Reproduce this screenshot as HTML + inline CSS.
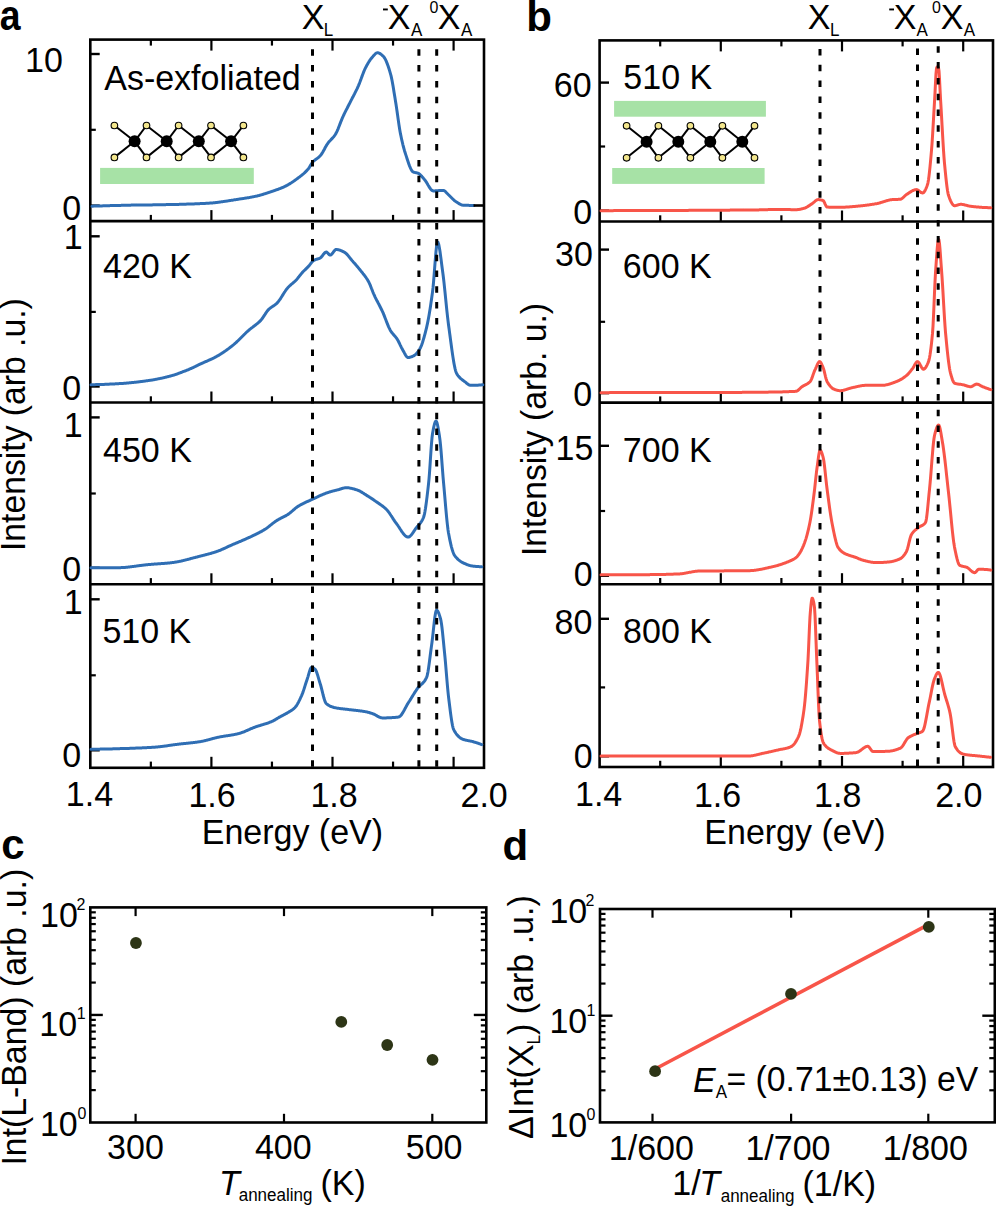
<!DOCTYPE html>
<html><head><meta charset="utf-8"><style>
html,body{margin:0;padding:0;background:#fff;overflow:hidden;}
svg{display:block;}
text{font-family:"Liberation Sans", sans-serif;fill:#000;}
</style></head><body>
<svg width="996" height="1206" viewBox="0 0 996 1206">
<rect width="996" height="1206" fill="#fff"/>
<rect x="90.30" y="39.60" width="393.70" height="728.20" fill="none" stroke="#000" stroke-width="2.6"/>
<line x1="90.30" y1="221.10" x2="484.00" y2="221.10" stroke="#000" stroke-width="2.6"/>
<line x1="90.30" y1="402.50" x2="484.00" y2="402.50" stroke="#000" stroke-width="2.6"/>
<line x1="90.30" y1="584.30" x2="484.00" y2="584.30" stroke="#000" stroke-width="2.6"/>
<line x1="150.85" y1="221.10" x2="150.85" y2="214.90" stroke="#000" stroke-width="2.2"/>
<line x1="211.40" y1="221.10" x2="211.40" y2="210.10" stroke="#000" stroke-width="2.2"/>
<line x1="271.95" y1="221.10" x2="271.95" y2="214.90" stroke="#000" stroke-width="2.2"/>
<line x1="332.50" y1="221.10" x2="332.50" y2="210.10" stroke="#000" stroke-width="2.2"/>
<line x1="393.05" y1="221.10" x2="393.05" y2="214.90" stroke="#000" stroke-width="2.2"/>
<line x1="453.60" y1="221.10" x2="453.60" y2="210.10" stroke="#000" stroke-width="2.2"/>
<line x1="150.85" y1="402.50" x2="150.85" y2="396.30" stroke="#000" stroke-width="2.2"/>
<line x1="211.40" y1="402.50" x2="211.40" y2="391.50" stroke="#000" stroke-width="2.2"/>
<line x1="271.95" y1="402.50" x2="271.95" y2="396.30" stroke="#000" stroke-width="2.2"/>
<line x1="332.50" y1="402.50" x2="332.50" y2="391.50" stroke="#000" stroke-width="2.2"/>
<line x1="393.05" y1="402.50" x2="393.05" y2="396.30" stroke="#000" stroke-width="2.2"/>
<line x1="453.60" y1="402.50" x2="453.60" y2="391.50" stroke="#000" stroke-width="2.2"/>
<line x1="150.85" y1="584.30" x2="150.85" y2="578.10" stroke="#000" stroke-width="2.2"/>
<line x1="211.40" y1="584.30" x2="211.40" y2="573.30" stroke="#000" stroke-width="2.2"/>
<line x1="271.95" y1="584.30" x2="271.95" y2="578.10" stroke="#000" stroke-width="2.2"/>
<line x1="332.50" y1="584.30" x2="332.50" y2="573.30" stroke="#000" stroke-width="2.2"/>
<line x1="393.05" y1="584.30" x2="393.05" y2="578.10" stroke="#000" stroke-width="2.2"/>
<line x1="453.60" y1="584.30" x2="453.60" y2="573.30" stroke="#000" stroke-width="2.2"/>
<line x1="150.85" y1="767.80" x2="150.85" y2="761.60" stroke="#000" stroke-width="2.2"/>
<line x1="211.40" y1="767.80" x2="211.40" y2="756.80" stroke="#000" stroke-width="2.2"/>
<line x1="271.95" y1="767.80" x2="271.95" y2="761.60" stroke="#000" stroke-width="2.2"/>
<line x1="332.50" y1="767.80" x2="332.50" y2="756.80" stroke="#000" stroke-width="2.2"/>
<line x1="393.05" y1="767.80" x2="393.05" y2="761.60" stroke="#000" stroke-width="2.2"/>
<line x1="453.60" y1="767.80" x2="453.60" y2="756.80" stroke="#000" stroke-width="2.2"/>
<line x1="150.85" y1="39.60" x2="150.85" y2="45.60" stroke="#000" stroke-width="2.2"/>
<line x1="211.40" y1="39.60" x2="211.40" y2="50.60" stroke="#000" stroke-width="2.2"/>
<line x1="271.95" y1="39.60" x2="271.95" y2="45.60" stroke="#000" stroke-width="2.2"/>
<line x1="332.50" y1="39.60" x2="332.50" y2="50.60" stroke="#000" stroke-width="2.2"/>
<line x1="393.05" y1="39.60" x2="393.05" y2="45.60" stroke="#000" stroke-width="2.2"/>
<line x1="453.60" y1="39.60" x2="453.60" y2="50.60" stroke="#000" stroke-width="2.2"/>
<line x1="90.30" y1="54.00" x2="99.70" y2="54.00" stroke="#000" stroke-width="2.4"/>
<line x1="90.30" y1="205.60" x2="99.70" y2="205.60" stroke="#000" stroke-width="2.4"/>
<line x1="90.30" y1="129.80" x2="95.80" y2="129.80" stroke="#000" stroke-width="2.2"/>
<line x1="90.30" y1="236.30" x2="99.70" y2="236.30" stroke="#000" stroke-width="2.4"/>
<line x1="90.30" y1="386.50" x2="99.70" y2="386.50" stroke="#000" stroke-width="2.4"/>
<line x1="90.30" y1="311.90" x2="95.80" y2="311.90" stroke="#000" stroke-width="2.2"/>
<line x1="90.30" y1="417.40" x2="99.70" y2="417.40" stroke="#000" stroke-width="2.4"/>
<line x1="90.30" y1="567.80" x2="99.70" y2="567.80" stroke="#000" stroke-width="2.4"/>
<line x1="90.30" y1="493.50" x2="95.80" y2="493.50" stroke="#000" stroke-width="2.2"/>
<line x1="90.30" y1="599.30" x2="99.70" y2="599.30" stroke="#000" stroke-width="2.4"/>
<line x1="90.30" y1="750.30" x2="99.70" y2="750.30" stroke="#000" stroke-width="2.4"/>
<line x1="90.30" y1="675.30" x2="95.80" y2="675.30" stroke="#000" stroke-width="2.2"/>
<rect x="599.60" y="40.40" width="393.40" height="726.60" fill="none" stroke="#000" stroke-width="2.6"/>
<line x1="599.60" y1="221.50" x2="993.00" y2="221.50" stroke="#000" stroke-width="2.6"/>
<line x1="599.60" y1="402.60" x2="993.00" y2="402.60" stroke="#000" stroke-width="2.6"/>
<line x1="599.60" y1="584.20" x2="993.00" y2="584.20" stroke="#000" stroke-width="2.6"/>
<line x1="660.20" y1="221.50" x2="660.20" y2="215.30" stroke="#000" stroke-width="2.2"/>
<line x1="720.80" y1="221.50" x2="720.80" y2="210.50" stroke="#000" stroke-width="2.2"/>
<line x1="781.40" y1="221.50" x2="781.40" y2="215.30" stroke="#000" stroke-width="2.2"/>
<line x1="842.00" y1="221.50" x2="842.00" y2="210.50" stroke="#000" stroke-width="2.2"/>
<line x1="902.60" y1="221.50" x2="902.60" y2="215.30" stroke="#000" stroke-width="2.2"/>
<line x1="963.20" y1="221.50" x2="963.20" y2="210.50" stroke="#000" stroke-width="2.2"/>
<line x1="660.20" y1="402.60" x2="660.20" y2="396.40" stroke="#000" stroke-width="2.2"/>
<line x1="720.80" y1="402.60" x2="720.80" y2="391.60" stroke="#000" stroke-width="2.2"/>
<line x1="781.40" y1="402.60" x2="781.40" y2="396.40" stroke="#000" stroke-width="2.2"/>
<line x1="842.00" y1="402.60" x2="842.00" y2="391.60" stroke="#000" stroke-width="2.2"/>
<line x1="902.60" y1="402.60" x2="902.60" y2="396.40" stroke="#000" stroke-width="2.2"/>
<line x1="963.20" y1="402.60" x2="963.20" y2="391.60" stroke="#000" stroke-width="2.2"/>
<line x1="660.20" y1="584.20" x2="660.20" y2="578.00" stroke="#000" stroke-width="2.2"/>
<line x1="720.80" y1="584.20" x2="720.80" y2="573.20" stroke="#000" stroke-width="2.2"/>
<line x1="781.40" y1="584.20" x2="781.40" y2="578.00" stroke="#000" stroke-width="2.2"/>
<line x1="842.00" y1="584.20" x2="842.00" y2="573.20" stroke="#000" stroke-width="2.2"/>
<line x1="902.60" y1="584.20" x2="902.60" y2="578.00" stroke="#000" stroke-width="2.2"/>
<line x1="963.20" y1="584.20" x2="963.20" y2="573.20" stroke="#000" stroke-width="2.2"/>
<line x1="660.20" y1="767.00" x2="660.20" y2="760.80" stroke="#000" stroke-width="2.2"/>
<line x1="720.80" y1="767.00" x2="720.80" y2="756.00" stroke="#000" stroke-width="2.2"/>
<line x1="781.40" y1="767.00" x2="781.40" y2="760.80" stroke="#000" stroke-width="2.2"/>
<line x1="842.00" y1="767.00" x2="842.00" y2="756.00" stroke="#000" stroke-width="2.2"/>
<line x1="902.60" y1="767.00" x2="902.60" y2="760.80" stroke="#000" stroke-width="2.2"/>
<line x1="963.20" y1="767.00" x2="963.20" y2="756.00" stroke="#000" stroke-width="2.2"/>
<line x1="660.20" y1="40.40" x2="660.20" y2="46.40" stroke="#000" stroke-width="2.2"/>
<line x1="720.80" y1="40.40" x2="720.80" y2="51.40" stroke="#000" stroke-width="2.2"/>
<line x1="781.40" y1="40.40" x2="781.40" y2="46.40" stroke="#000" stroke-width="2.2"/>
<line x1="842.00" y1="40.40" x2="842.00" y2="51.40" stroke="#000" stroke-width="2.2"/>
<line x1="902.60" y1="40.40" x2="902.60" y2="46.40" stroke="#000" stroke-width="2.2"/>
<line x1="963.20" y1="40.40" x2="963.20" y2="51.40" stroke="#000" stroke-width="2.2"/>
<line x1="599.60" y1="82.60" x2="609.00" y2="82.60" stroke="#000" stroke-width="2.4"/>
<line x1="599.60" y1="210.60" x2="609.00" y2="210.60" stroke="#000" stroke-width="2.4"/>
<line x1="599.60" y1="146.50" x2="605.10" y2="146.50" stroke="#000" stroke-width="2.2"/>
<line x1="599.60" y1="249.60" x2="609.00" y2="249.60" stroke="#000" stroke-width="2.4"/>
<line x1="599.60" y1="393.10" x2="609.00" y2="393.10" stroke="#000" stroke-width="2.4"/>
<line x1="599.60" y1="321.80" x2="605.10" y2="321.80" stroke="#000" stroke-width="2.2"/>
<line x1="599.60" y1="445.80" x2="609.00" y2="445.80" stroke="#000" stroke-width="2.4"/>
<line x1="599.60" y1="575.80" x2="609.00" y2="575.80" stroke="#000" stroke-width="2.4"/>
<line x1="599.60" y1="511.00" x2="605.10" y2="511.00" stroke="#000" stroke-width="2.2"/>
<line x1="599.60" y1="618.80" x2="609.00" y2="618.80" stroke="#000" stroke-width="2.4"/>
<line x1="599.60" y1="756.30" x2="609.00" y2="756.30" stroke="#000" stroke-width="2.4"/>
<line x1="599.60" y1="687.40" x2="605.10" y2="687.40" stroke="#000" stroke-width="2.2"/>
<rect x="100.1" y="167.9" width="153.7" height="16.1" fill="#a7e2a6"/>
<line x1="134.60" y1="141.30" x2="114.40" y2="125.50" stroke="#000" stroke-width="2"/>
<line x1="134.60" y1="141.30" x2="114.40" y2="157.40" stroke="#000" stroke-width="2"/>
<line x1="134.60" y1="141.30" x2="146.50" y2="125.50" stroke="#000" stroke-width="2"/>
<line x1="134.60" y1="141.30" x2="146.50" y2="157.40" stroke="#000" stroke-width="2"/>
<line x1="166.70" y1="141.30" x2="146.50" y2="125.50" stroke="#000" stroke-width="2"/>
<line x1="166.70" y1="141.30" x2="146.50" y2="157.40" stroke="#000" stroke-width="2"/>
<line x1="166.70" y1="141.30" x2="178.60" y2="125.50" stroke="#000" stroke-width="2"/>
<line x1="166.70" y1="141.30" x2="178.60" y2="157.40" stroke="#000" stroke-width="2"/>
<line x1="198.80" y1="141.30" x2="178.60" y2="125.50" stroke="#000" stroke-width="2"/>
<line x1="198.80" y1="141.30" x2="178.60" y2="157.40" stroke="#000" stroke-width="2"/>
<line x1="198.80" y1="141.30" x2="211.00" y2="125.50" stroke="#000" stroke-width="2"/>
<line x1="198.80" y1="141.30" x2="211.00" y2="157.40" stroke="#000" stroke-width="2"/>
<line x1="231.10" y1="141.30" x2="211.00" y2="125.50" stroke="#000" stroke-width="2"/>
<line x1="231.10" y1="141.30" x2="211.00" y2="157.40" stroke="#000" stroke-width="2"/>
<line x1="231.10" y1="141.30" x2="243.40" y2="125.50" stroke="#000" stroke-width="2"/>
<line x1="231.10" y1="141.30" x2="243.40" y2="157.40" stroke="#000" stroke-width="2"/>
<circle cx="134.60" cy="141.30" r="6" fill="#000"/>
<circle cx="166.70" cy="141.30" r="6" fill="#000"/>
<circle cx="198.80" cy="141.30" r="6" fill="#000"/>
<circle cx="231.10" cy="141.30" r="6" fill="#000"/>
<circle cx="114.40" cy="125.50" r="3.3" fill="#f3e68c" stroke="#000" stroke-width="1.1"/>
<circle cx="114.40" cy="157.40" r="3.3" fill="#f3e68c" stroke="#000" stroke-width="1.1"/>
<circle cx="146.50" cy="125.50" r="3.3" fill="#f3e68c" stroke="#000" stroke-width="1.1"/>
<circle cx="146.50" cy="157.40" r="3.3" fill="#f3e68c" stroke="#000" stroke-width="1.1"/>
<circle cx="178.60" cy="125.50" r="3.3" fill="#f3e68c" stroke="#000" stroke-width="1.1"/>
<circle cx="178.60" cy="157.40" r="3.3" fill="#f3e68c" stroke="#000" stroke-width="1.1"/>
<circle cx="211.00" cy="125.50" r="3.3" fill="#f3e68c" stroke="#000" stroke-width="1.1"/>
<circle cx="211.00" cy="157.40" r="3.3" fill="#f3e68c" stroke="#000" stroke-width="1.1"/>
<circle cx="243.40" cy="125.50" r="3.3" fill="#f3e68c" stroke="#000" stroke-width="1.1"/>
<circle cx="243.40" cy="157.40" r="3.3" fill="#f3e68c" stroke="#000" stroke-width="1.1"/>
<rect x="614.1" y="100.9" width="151.8" height="15.8" fill="#a7e2a6"/>
<rect x="612.2" y="168.0" width="152.4" height="15.9" fill="#a7e2a6"/>
<line x1="646.60" y1="141.80" x2="626.60" y2="125.80" stroke="#000" stroke-width="2"/>
<line x1="646.60" y1="141.80" x2="626.60" y2="157.80" stroke="#000" stroke-width="2"/>
<line x1="646.60" y1="141.80" x2="658.40" y2="125.80" stroke="#000" stroke-width="2"/>
<line x1="646.60" y1="141.80" x2="658.40" y2="157.80" stroke="#000" stroke-width="2"/>
<line x1="678.30" y1="141.80" x2="658.40" y2="125.80" stroke="#000" stroke-width="2"/>
<line x1="678.30" y1="141.80" x2="658.40" y2="157.80" stroke="#000" stroke-width="2"/>
<line x1="678.30" y1="141.80" x2="690.40" y2="125.80" stroke="#000" stroke-width="2"/>
<line x1="678.30" y1="141.80" x2="690.40" y2="157.80" stroke="#000" stroke-width="2"/>
<line x1="710.30" y1="141.80" x2="690.40" y2="125.80" stroke="#000" stroke-width="2"/>
<line x1="710.30" y1="141.80" x2="690.40" y2="157.80" stroke="#000" stroke-width="2"/>
<line x1="710.30" y1="141.80" x2="722.40" y2="125.80" stroke="#000" stroke-width="2"/>
<line x1="710.30" y1="141.80" x2="722.40" y2="157.80" stroke="#000" stroke-width="2"/>
<line x1="742.30" y1="141.80" x2="722.40" y2="125.80" stroke="#000" stroke-width="2"/>
<line x1="742.30" y1="141.80" x2="722.40" y2="157.80" stroke="#000" stroke-width="2"/>
<line x1="742.30" y1="141.80" x2="754.50" y2="125.80" stroke="#000" stroke-width="2"/>
<line x1="742.30" y1="141.80" x2="754.50" y2="157.80" stroke="#000" stroke-width="2"/>
<circle cx="646.60" cy="141.80" r="6" fill="#000"/>
<circle cx="678.30" cy="141.80" r="6" fill="#000"/>
<circle cx="710.30" cy="141.80" r="6" fill="#000"/>
<circle cx="742.30" cy="141.80" r="6" fill="#000"/>
<circle cx="626.60" cy="125.80" r="3.3" fill="#f3e68c" stroke="#000" stroke-width="1.1"/>
<circle cx="626.60" cy="157.80" r="3.3" fill="#f3e68c" stroke="#000" stroke-width="1.1"/>
<circle cx="658.40" cy="125.80" r="3.3" fill="#f3e68c" stroke="#000" stroke-width="1.1"/>
<circle cx="658.40" cy="157.80" r="3.3" fill="#f3e68c" stroke="#000" stroke-width="1.1"/>
<circle cx="690.40" cy="125.80" r="3.3" fill="#f3e68c" stroke="#000" stroke-width="1.1"/>
<circle cx="690.40" cy="157.80" r="3.3" fill="#f3e68c" stroke="#000" stroke-width="1.1"/>
<circle cx="722.40" cy="125.80" r="3.3" fill="#f3e68c" stroke="#000" stroke-width="1.1"/>
<circle cx="722.40" cy="157.80" r="3.3" fill="#f3e68c" stroke="#000" stroke-width="1.1"/>
<circle cx="754.50" cy="125.80" r="3.3" fill="#f3e68c" stroke="#000" stroke-width="1.1"/>
<circle cx="754.50" cy="157.80" r="3.3" fill="#f3e68c" stroke="#000" stroke-width="1.1"/>
<path d="M92.0,206.2 L92.5,206.2 L93.0,206.2 L93.5,206.1 L94.0,206.1 L94.5,206.1 L95.0,206.1 L95.5,206.1 L96.0,206.1 L96.5,206.1 L97.0,206.0 L97.5,206.0 L98.0,206.0 L98.5,206.0 L99.0,206.0 L99.5,206.0 L100.0,205.9 L100.5,205.9 L101.0,205.9 L101.5,205.9 L102.0,205.9 L102.5,205.9 L103.0,205.8 L103.5,205.8 L104.0,205.8 L104.5,205.8 L105.0,205.8 L105.5,205.8 L106.0,205.8 L106.5,205.7 L107.0,205.7 L107.5,205.7 L108.0,205.7 L108.5,205.7 L109.0,205.7 L109.5,205.7 L110.0,205.6 L110.5,205.6 L111.0,205.6 L111.5,205.6 L112.0,205.6 L112.5,205.6 L113.0,205.6 L113.5,205.5 L114.0,205.5 L114.5,205.5 L115.0,205.5 L115.5,205.5 L116.0,205.5 L116.5,205.5 L117.0,205.5 L117.5,205.4 L118.0,205.4 L118.5,205.4 L119.0,205.4 L119.5,205.4 L120.0,205.4 L120.5,205.4 L121.0,205.4 L121.5,205.3 L122.0,205.3 L122.5,205.3 L123.0,205.3 L123.5,205.3 L124.0,205.3 L124.5,205.3 L125.0,205.3 L125.5,205.3 L126.0,205.2 L126.5,205.2 L127.0,205.2 L127.5,205.2 L128.0,205.2 L128.5,205.2 L129.0,205.2 L129.5,205.2 L130.0,205.2 L130.5,205.2 L131.0,205.1 L131.5,205.1 L132.0,205.1 L132.5,205.1 L133.0,205.1 L133.5,205.1 L134.0,205.1 L134.5,205.1 L135.0,205.1 L135.5,205.1 L136.0,205.1 L136.5,205.1 L137.0,205.1 L137.5,205.0 L138.0,205.0 L138.5,205.0 L139.0,205.0 L139.5,205.0 L140.0,205.0 L140.5,205.0 L141.0,205.0 L141.5,205.0 L142.0,205.0 L142.5,205.0 L143.0,205.0 L143.5,205.0 L144.0,205.0 L144.5,205.0 L145.0,204.9 L145.5,204.9 L146.0,204.9 L146.5,204.9 L147.0,204.9 L147.5,204.9 L148.0,204.9 L148.5,204.9 L149.0,204.9 L149.5,204.9 L150.0,204.9 L150.5,204.9 L151.0,204.9 L151.5,204.9 L152.0,204.9 L152.5,204.9 L153.0,204.8 L153.5,204.8 L154.0,204.8 L154.5,204.8 L155.0,204.8 L155.5,204.8 L156.0,204.8 L156.5,204.8 L157.0,204.8 L157.5,204.8 L158.0,204.8 L158.5,204.8 L159.0,204.8 L159.5,204.8 L160.0,204.7 L160.5,204.7 L161.0,204.7 L161.5,204.7 L162.0,204.7 L162.5,204.7 L163.0,204.7 L163.5,204.7 L164.0,204.7 L164.5,204.7 L165.0,204.7 L165.5,204.7 L166.0,204.6 L166.5,204.6 L167.0,204.6 L167.5,204.6 L168.0,204.6 L168.5,204.6 L169.0,204.6 L169.5,204.6 L170.0,204.6 L170.5,204.6 L171.0,204.5 L171.5,204.5 L172.0,204.5 L172.5,204.5 L173.0,204.5 L173.5,204.5 L174.0,204.5 L174.5,204.5 L175.0,204.5 L175.5,204.4 L176.0,204.4 L176.5,204.4 L177.0,204.4 L177.5,204.4 L178.0,204.4 L178.5,204.4 L179.0,204.4 L179.5,204.3 L180.0,204.3 L180.5,204.3 L181.0,204.3 L181.5,204.3 L182.0,204.3 L182.5,204.3 L183.0,204.2 L183.5,204.2 L184.0,204.2 L184.5,204.2 L185.0,204.2 L185.5,204.2 L186.0,204.2 L186.5,204.1 L187.0,204.1 L187.5,204.1 L188.0,204.1 L188.5,204.1 L189.0,204.1 L189.5,204.0 L190.0,204.0 L190.5,204.0 L191.0,204.0 L191.5,204.0 L192.0,204.0 L192.5,203.9 L193.0,203.9 L193.5,203.9 L194.0,203.9 L194.5,203.9 L195.0,203.8 L195.5,203.8 L196.0,203.8 L196.5,203.8 L197.0,203.8 L197.5,203.7 L198.0,203.7 L198.5,203.7 L199.0,203.7 L199.5,203.7 L200.0,203.6 L200.5,203.6 L201.0,203.6 L201.5,203.6 L202.0,203.5 L202.5,203.5 L203.0,203.5 L203.5,203.5 L204.0,203.4 L204.5,203.4 L205.0,203.4 L205.5,203.4 L206.0,203.3 L206.5,203.3 L207.0,203.3 L207.5,203.3 L208.0,203.2 L208.5,203.2 L209.0,203.2 L209.5,203.1 L210.0,203.1 L210.5,203.1 L211.0,203.0 L211.5,203.0 L212.0,202.9 L212.5,202.9 L213.0,202.9 L213.5,202.8 L214.0,202.8 L214.5,202.7 L215.0,202.7 L215.5,202.6 L216.0,202.6 L216.5,202.5 L217.0,202.4 L217.5,202.4 L218.0,202.3 L218.5,202.3 L219.0,202.2 L219.5,202.1 L220.0,202.1 L220.5,202.0 L221.0,201.9 L221.5,201.8 L222.0,201.8 L222.5,201.7 L223.0,201.6 L223.5,201.6 L224.0,201.5 L224.5,201.4 L225.0,201.3 L225.5,201.3 L226.0,201.2 L226.5,201.1 L227.0,201.0 L227.5,201.0 L228.0,200.9 L228.5,200.8 L229.0,200.7 L229.5,200.6 L230.0,200.6 L230.5,200.5 L231.0,200.4 L231.5,200.3 L232.0,200.2 L232.5,200.2 L233.0,200.1 L233.5,200.0 L234.0,199.9 L234.5,199.8 L235.0,199.8 L235.5,199.7 L236.0,199.6 L236.5,199.5 L237.0,199.4 L237.5,199.4 L238.0,199.3 L238.5,199.2 L239.0,199.1 L239.5,199.1 L240.0,199.0 L240.5,198.9 L241.0,198.8 L241.5,198.8 L242.0,198.7 L242.5,198.6 L243.0,198.5 L243.5,198.5 L244.0,198.4 L244.5,198.3 L245.0,198.2 L245.5,198.1 L246.0,198.1 L246.5,198.0 L247.0,197.9 L247.5,197.8 L248.0,197.7 L248.5,197.7 L249.0,197.6 L249.5,197.5 L250.0,197.4 L250.5,197.3 L251.0,197.2 L251.5,197.1 L252.0,197.0 L252.5,196.9 L253.0,196.8 L253.5,196.7 L254.0,196.6 L254.5,196.5 L255.0,196.4 L255.5,196.3 L256.0,196.2 L256.5,196.1 L257.0,196.0 L257.5,195.8 L258.0,195.7 L258.5,195.6 L259.0,195.5 L259.5,195.3 L260.0,195.2 L260.5,195.1 L261.0,194.9 L261.5,194.8 L262.0,194.6 L262.5,194.5 L263.0,194.3 L263.5,194.2 L264.0,194.0 L264.5,193.9 L265.0,193.7 L265.5,193.6 L266.0,193.4 L266.5,193.2 L267.0,193.1 L267.5,192.9 L268.0,192.7 L268.5,192.6 L269.0,192.4 L269.5,192.2 L270.0,192.1 L270.5,191.9 L271.0,191.7 L271.5,191.6 L272.0,191.4 L272.5,191.2 L273.0,191.1 L273.5,190.9 L274.0,190.7 L274.5,190.6 L275.0,190.4 L275.5,190.2 L276.0,190.0 L276.5,189.9 L277.0,189.7 L277.5,189.5 L278.0,189.3 L278.5,189.1 L279.0,188.9 L279.5,188.7 L280.0,188.6 L280.5,188.4 L281.0,188.2 L281.5,188.0 L282.0,187.7 L282.5,187.5 L283.0,187.3 L283.5,187.1 L284.0,186.9 L284.5,186.6 L285.0,186.4 L285.5,186.2 L286.0,185.9 L286.5,185.6 L287.0,185.4 L287.5,185.1 L288.0,184.8 L288.5,184.5 L289.0,184.2 L289.5,183.9 L290.0,183.6 L290.5,183.3 L291.0,183.0 L291.5,182.7 L292.0,182.3 L292.5,182.0 L293.0,181.7 L293.5,181.3 L294.0,181.0 L294.5,180.6 L295.0,180.3 L295.5,179.9 L296.0,179.5 L296.5,179.2 L297.0,178.8 L297.5,178.4 L298.0,178.1 L298.5,177.7 L299.0,177.3 L299.5,177.0 L300.0,176.6 L300.5,176.2 L301.0,175.8 L301.5,175.4 L302.0,175.0 L302.5,174.6 L303.0,174.2 L303.5,173.8 L304.0,173.3 L304.5,172.9 L305.0,172.4 L305.5,171.9 L306.0,171.4 L306.5,170.9 L307.0,170.4 L307.5,169.8 L308.0,169.3 L308.5,168.6 L309.0,167.9 L309.5,167.1 L310.0,166.2 L310.5,165.4 L311.0,164.6 L311.5,163.8 L312.0,163.0 L312.5,162.3 L313.0,161.8 L313.5,161.3 L314.0,160.8 L314.5,160.4 L315.0,160.0 L315.5,159.6 L316.0,159.3 L316.5,158.9 L317.0,158.5 L317.5,158.2 L318.0,157.8 L318.5,157.4 L319.0,157.0 L319.5,156.5 L320.0,156.0 L320.5,155.5 L321.0,154.8 L321.5,154.1 L322.0,153.4 L322.5,152.5 L323.0,151.7 L323.5,150.8 L324.0,149.9 L324.5,149.0 L325.0,148.0 L325.5,147.1 L326.0,146.2 L326.5,145.4 L327.0,144.5 L327.5,143.8 L328.0,143.1 L328.5,142.4 L329.0,141.8 L329.5,141.2 L330.0,140.7 L330.5,140.2 L331.0,139.6 L331.5,139.1 L332.0,138.6 L332.5,138.1 L333.0,137.5 L333.5,137.0 L334.0,136.4 L334.5,135.7 L335.0,135.0 L335.5,134.2 L336.0,133.4 L336.5,132.4 L337.0,131.4 L337.5,130.2 L338.0,129.1 L338.5,127.8 L339.0,126.5 L339.5,125.2 L340.0,123.9 L340.5,122.6 L341.0,121.3 L341.5,120.1 L342.0,118.9 L342.5,117.7 L343.0,116.6 L343.5,115.5 L344.0,114.5 L344.5,113.4 L345.0,112.4 L345.5,111.4 L346.0,110.4 L346.5,109.4 L347.0,108.5 L347.5,107.5 L348.0,106.5 L348.5,105.5 L349.0,104.6 L349.5,103.6 L350.0,102.6 L350.5,101.6 L351.0,100.6 L351.5,99.6 L352.0,98.7 L352.5,97.7 L353.0,96.8 L353.5,95.8 L354.0,94.8 L354.5,93.9 L355.0,92.9 L355.5,91.9 L356.0,90.9 L356.5,89.9 L357.0,88.9 L357.5,87.8 L358.0,86.7 L358.5,85.6 L359.0,84.3 L359.5,83.1 L360.0,81.8 L360.5,80.4 L361.0,79.1 L361.5,77.7 L362.0,76.4 L362.5,75.0 L363.0,73.7 L363.5,72.4 L364.0,71.2 L364.5,70.0 L365.0,68.9 L365.5,67.9 L366.0,66.9 L366.5,66.0 L367.0,65.1 L367.5,64.2 L368.0,63.3 L368.5,62.5 L369.0,61.6 L369.5,60.9 L370.0,60.1 L370.5,59.4 L371.0,58.8 L371.5,58.1 L372.0,57.6 L372.5,57.0 L373.0,56.4 L373.5,55.8 L374.0,55.2 L374.5,54.7 L375.0,54.1 L375.5,53.7 L376.0,53.3 L376.5,53.0 L377.0,52.9 L377.5,52.8 L378.0,52.8 L378.5,52.9 L379.0,53.1 L379.5,53.3 L380.0,53.6 L380.5,53.9 L381.0,54.3 L381.5,54.7 L382.0,55.1 L382.5,55.6 L383.0,56.0 L383.5,56.5 L384.0,57.1 L384.5,57.9 L385.0,58.7 L385.5,59.7 L386.0,60.7 L386.5,61.9 L387.0,63.1 L387.5,64.4 L388.0,65.8 L388.5,67.3 L389.0,68.8 L389.5,70.4 L390.0,72.1 L390.5,73.8 L391.0,75.6 L391.5,77.8 L392.0,80.2 L392.5,82.9 L393.0,85.8 L393.5,88.8 L394.0,91.9 L394.5,95.0 L395.0,98.1 L395.5,101.2 L396.0,104.3 L396.5,107.6 L397.0,111.0 L397.5,114.5 L398.0,118.1 L398.5,121.6 L399.0,125.0 L399.5,128.2 L400.0,131.2 L400.5,133.9 L401.0,136.3 L401.5,138.7 L402.0,140.9 L402.5,143.0 L403.0,145.1 L403.5,147.0 L404.0,148.9 L404.5,150.7 L405.0,152.3 L405.5,153.9 L406.0,155.4 L406.5,156.9 L407.0,158.5 L407.5,160.0 L408.0,161.5 L408.5,163.0 L409.0,164.4 L409.5,165.8 L410.0,167.0 L410.5,168.2 L411.0,169.2 L411.5,170.1 L412.0,170.9 L412.5,171.5 L413.0,171.9 L413.5,172.1 L414.0,172.3 L414.5,172.4 L415.0,172.5 L415.5,172.6 L416.0,172.7 L416.5,172.8 L417.0,172.9 L417.5,173.1 L418.0,173.2 L418.5,173.4 L419.0,173.7 L419.5,174.1 L420.0,174.5 L420.5,175.0 L421.0,175.5 L421.5,176.1 L422.0,176.6 L422.5,177.2 L423.0,177.8 L423.5,178.4 L424.0,179.0 L424.5,179.6 L425.0,180.2 L425.5,180.9 L426.0,181.6 L426.5,182.4 L427.0,183.2 L427.5,184.1 L428.0,185.0 L428.5,185.8 L429.0,186.6 L429.5,187.4 L430.0,188.2 L430.5,188.9 L431.0,189.5 L431.5,190.0 L432.0,190.4 L432.5,190.7 L433.0,190.9 L433.5,190.9 L434.0,190.9 L434.5,190.9 L435.0,190.9 L435.5,190.8 L436.0,190.8 L436.5,190.8 L437.0,190.7 L437.5,190.7 L438.0,190.7 L438.5,190.6 L439.0,190.6 L439.5,190.6 L440.0,190.5 L440.5,190.5 L441.0,190.5 L441.5,190.4 L442.0,190.4 L442.5,190.4 L443.0,190.4 L443.5,190.4 L444.0,190.6 L444.5,190.8 L445.0,191.2 L445.5,191.6 L446.0,192.2 L446.5,192.7 L447.0,193.3 L447.5,193.8 L448.0,194.3 L448.5,194.8 L449.0,195.2 L449.5,195.7 L450.0,196.2 L450.5,196.7 L451.0,197.2 L451.5,197.7 L452.0,198.2 L452.5,198.7 L453.0,199.2 L453.5,199.7 L454.0,200.1 L454.5,200.6 L455.0,201.0 L455.5,201.3 L456.0,201.7 L456.5,202.0 L457.0,202.3 L457.5,202.6 L458.0,203.0 L458.5,203.3 L459.0,203.6 L459.5,203.9 L460.0,204.1 L460.5,204.4 L461.0,204.6 L461.5,204.8 L462.0,205.0 L462.5,205.1 L463.0,205.2 L463.5,205.2 L464.0,205.2 L464.5,205.2 L465.0,205.3 L465.5,205.3 L466.0,205.3 L466.5,205.3 L467.0,205.3 L467.5,205.3 L468.0,205.3 L468.5,205.3 L469.0,205.4 L469.5,205.4 L470.0,205.4 L470.5,205.4 L471.0,205.4 L471.5,205.4 L472.0,205.4 L472.5,205.4 L473.0,205.4 L473.5,205.4 L474.0,205.4" fill="none" stroke="#2f6eb4" stroke-width="3.0" stroke-linejoin="round" stroke-linecap="round"/>
<path d="M91.0,384.7 L91.5,384.7 L92.0,384.7 L92.5,384.7 L93.0,384.7 L93.5,384.7 L94.0,384.7 L94.5,384.7 L95.0,384.7 L95.5,384.6 L96.0,384.6 L96.5,384.6 L97.0,384.6 L97.5,384.6 L98.0,384.6 L98.5,384.6 L99.0,384.6 L99.5,384.5 L100.0,384.5 L100.5,384.5 L101.0,384.5 L101.5,384.5 L102.0,384.5 L102.5,384.4 L103.0,384.4 L103.5,384.4 L104.0,384.4 L104.5,384.4 L105.0,384.3 L105.5,384.3 L106.0,384.3 L106.5,384.3 L107.0,384.3 L107.5,384.2 L108.0,384.2 L108.5,384.2 L109.0,384.2 L109.5,384.1 L110.0,384.1 L110.5,384.1 L111.0,384.1 L111.5,384.0 L112.0,384.0 L112.5,384.0 L113.0,384.0 L113.5,383.9 L114.0,383.9 L114.5,383.9 L115.0,383.9 L115.5,383.8 L116.0,383.8 L116.5,383.8 L117.0,383.8 L117.5,383.7 L118.0,383.7 L118.5,383.7 L119.0,383.6 L119.5,383.6 L120.0,383.6 L120.5,383.6 L121.0,383.5 L121.5,383.5 L122.0,383.5 L122.5,383.4 L123.0,383.4 L123.5,383.4 L124.0,383.3 L124.5,383.3 L125.0,383.2 L125.5,383.2 L126.0,383.2 L126.5,383.1 L127.0,383.1 L127.5,383.0 L128.0,383.0 L128.5,382.9 L129.0,382.9 L129.5,382.8 L130.0,382.8 L130.5,382.7 L131.0,382.7 L131.5,382.6 L132.0,382.6 L132.5,382.5 L133.0,382.5 L133.5,382.4 L134.0,382.4 L134.5,382.3 L135.0,382.3 L135.5,382.2 L136.0,382.2 L136.5,382.1 L137.0,382.0 L137.5,382.0 L138.0,381.9 L138.5,381.9 L139.0,381.8 L139.5,381.7 L140.0,381.7 L140.5,381.6 L141.0,381.6 L141.5,381.5 L142.0,381.4 L142.5,381.4 L143.0,381.3 L143.5,381.2 L144.0,381.2 L144.5,381.1 L145.0,381.0 L145.5,381.0 L146.0,380.9 L146.5,380.8 L147.0,380.8 L147.5,380.7 L148.0,380.6 L148.5,380.6 L149.0,380.5 L149.5,380.4 L150.0,380.3 L150.5,380.3 L151.0,380.2 L151.5,380.1 L152.0,380.0 L152.5,379.9 L153.0,379.9 L153.5,379.8 L154.0,379.7 L154.5,379.6 L155.0,379.5 L155.5,379.4 L156.0,379.3 L156.5,379.2 L157.0,379.1 L157.5,379.0 L158.0,378.9 L158.5,378.8 L159.0,378.7 L159.5,378.6 L160.0,378.5 L160.5,378.4 L161.0,378.3 L161.5,378.2 L162.0,378.1 L162.5,378.0 L163.0,377.9 L163.5,377.8 L164.0,377.6 L164.5,377.5 L165.0,377.4 L165.5,377.3 L166.0,377.2 L166.5,377.0 L167.0,376.9 L167.5,376.8 L168.0,376.7 L168.5,376.5 L169.0,376.4 L169.5,376.3 L170.0,376.2 L170.5,376.0 L171.0,375.9 L171.5,375.7 L172.0,375.6 L172.5,375.4 L173.0,375.3 L173.5,375.1 L174.0,375.0 L174.5,374.8 L175.0,374.6 L175.5,374.5 L176.0,374.3 L176.5,374.1 L177.0,374.0 L177.5,373.8 L178.0,373.6 L178.5,373.4 L179.0,373.2 L179.5,373.1 L180.0,372.9 L180.5,372.7 L181.0,372.5 L181.5,372.3 L182.0,372.1 L182.5,371.9 L183.0,371.7 L183.5,371.5 L184.0,371.4 L184.5,371.2 L185.0,371.0 L185.5,370.8 L186.0,370.6 L186.5,370.4 L187.0,370.2 L187.5,370.0 L188.0,369.8 L188.5,369.6 L189.0,369.4 L189.5,369.1 L190.0,368.9 L190.5,368.7 L191.0,368.5 L191.5,368.3 L192.0,368.0 L192.5,367.8 L193.0,367.6 L193.5,367.3 L194.0,367.1 L194.5,366.8 L195.0,366.6 L195.5,366.4 L196.0,366.1 L196.5,365.9 L197.0,365.6 L197.5,365.4 L198.0,365.1 L198.5,364.9 L199.0,364.7 L199.5,364.4 L200.0,364.2 L200.5,364.0 L201.0,363.7 L201.5,363.5 L202.0,363.3 L202.5,363.0 L203.0,362.8 L203.5,362.6 L204.0,362.4 L204.5,362.2 L205.0,361.9 L205.5,361.7 L206.0,361.5 L206.5,361.3 L207.0,361.1 L207.5,360.8 L208.0,360.6 L208.5,360.4 L209.0,360.2 L209.5,360.0 L210.0,359.7 L210.5,359.5 L211.0,359.3 L211.5,359.0 L212.0,358.8 L212.5,358.6 L213.0,358.3 L213.5,358.1 L214.0,357.8 L214.5,357.6 L215.0,357.3 L215.5,357.0 L216.0,356.8 L216.5,356.5 L217.0,356.2 L217.5,355.9 L218.0,355.6 L218.5,355.4 L219.0,355.1 L219.5,354.8 L220.0,354.5 L220.5,354.1 L221.0,353.8 L221.5,353.5 L222.0,353.2 L222.5,352.9 L223.0,352.5 L223.5,352.2 L224.0,351.9 L224.5,351.5 L225.0,351.2 L225.5,350.8 L226.0,350.5 L226.5,350.1 L227.0,349.8 L227.5,349.4 L228.0,349.0 L228.5,348.7 L229.0,348.3 L229.5,347.9 L230.0,347.5 L230.5,347.1 L231.0,346.8 L231.5,346.4 L232.0,346.0 L232.5,345.6 L233.0,345.2 L233.5,344.8 L234.0,344.3 L234.5,343.9 L235.0,343.5 L235.5,343.0 L236.0,342.6 L236.5,342.1 L237.0,341.6 L237.5,341.2 L238.0,340.7 L238.5,340.2 L239.0,339.7 L239.5,339.2 L240.0,338.7 L240.5,338.2 L241.0,337.7 L241.5,337.2 L242.0,336.7 L242.5,336.2 L243.0,335.7 L243.5,335.2 L244.0,334.7 L244.5,334.2 L245.0,333.8 L245.5,333.3 L246.0,332.8 L246.5,332.3 L247.0,331.8 L247.5,331.4 L248.0,330.9 L248.5,330.5 L249.0,330.1 L249.5,329.6 L250.0,329.2 L250.5,328.8 L251.0,328.4 L251.5,328.0 L252.0,327.7 L252.5,327.3 L253.0,326.9 L253.5,326.5 L254.0,326.1 L254.5,325.8 L255.0,325.4 L255.5,325.0 L256.0,324.6 L256.5,324.2 L257.0,323.8 L257.5,323.4 L258.0,323.0 L258.5,322.5 L259.0,322.1 L259.5,321.6 L260.0,321.1 L260.5,320.6 L261.0,320.1 L261.5,319.5 L262.0,318.8 L262.5,318.2 L263.0,317.4 L263.5,316.7 L264.0,315.9 L264.5,315.1 L265.0,314.4 L265.5,313.6 L266.0,312.8 L266.5,312.1 L267.0,311.4 L267.5,310.8 L268.0,310.1 L268.5,309.6 L269.0,309.1 L269.5,308.7 L270.0,308.3 L270.5,307.9 L271.0,307.5 L271.5,307.2 L272.0,306.8 L272.5,306.5 L273.0,306.2 L273.5,305.9 L274.0,305.5 L274.5,305.2 L275.0,304.8 L275.5,304.4 L276.0,304.0 L276.5,303.6 L277.0,303.1 L277.5,302.6 L278.0,302.0 L278.5,301.4 L279.0,300.7 L279.5,300.0 L280.0,299.3 L280.5,298.6 L281.0,297.8 L281.5,297.0 L282.0,296.2 L282.5,295.4 L283.0,294.6 L283.5,293.8 L284.0,293.0 L284.5,292.2 L285.0,291.5 L285.5,290.7 L286.0,290.0 L286.5,289.3 L287.0,288.7 L287.5,288.1 L288.0,287.5 L288.5,287.0 L289.0,286.5 L289.5,286.0 L290.0,285.5 L290.5,285.1 L291.0,284.6 L291.5,284.2 L292.0,283.8 L292.5,283.4 L293.0,283.0 L293.5,282.5 L294.0,282.1 L294.5,281.7 L295.0,281.2 L295.5,280.7 L296.0,280.2 L296.5,279.7 L297.0,279.1 L297.5,278.5 L298.0,277.9 L298.5,277.2 L299.0,276.6 L299.5,276.0 L300.0,275.3 L300.5,274.7 L301.0,274.1 L301.5,273.5 L302.0,272.9 L302.5,272.4 L303.0,271.8 L303.5,271.3 L304.0,270.8 L304.5,270.3 L305.0,269.9 L305.5,269.4 L306.0,268.9 L306.5,268.4 L307.0,267.9 L307.5,267.4 L308.0,266.9 L308.5,266.4 L309.0,265.8 L309.5,265.2 L310.0,264.5 L310.5,263.9 L311.0,263.2 L311.5,262.6 L312.0,262.0 L312.5,261.5 L313.0,261.0 L313.5,260.6 L314.0,260.3 L314.5,260.0 L315.0,259.8 L315.5,259.6 L316.0,259.4 L316.5,259.3 L317.0,259.2 L317.5,259.0 L318.0,258.9 L318.5,258.7 L319.0,258.6 L319.5,258.4 L320.0,258.2 L320.5,257.8 L321.0,257.4 L321.5,256.9 L322.0,256.3 L322.5,255.6 L323.0,254.9 L323.5,254.2 L324.0,253.6 L324.5,253.1 L325.0,252.6 L325.5,252.3 L326.0,252.1 L326.5,252.1 L327.0,252.4 L327.5,252.8 L328.0,253.4 L328.5,253.9 L329.0,254.5 L329.5,254.9 L330.0,255.1 L330.5,255.1 L331.0,254.8 L331.5,254.4 L332.0,253.9 L332.5,253.3 L333.0,252.6 L333.5,251.9 L334.0,251.2 L334.5,250.6 L335.0,250.1 L335.5,249.7 L336.0,249.5 L336.5,249.5 L337.0,249.5 L337.5,249.6 L338.0,249.7 L338.5,249.8 L339.0,249.9 L339.5,250.1 L340.0,250.2 L340.5,250.4 L341.0,250.6 L341.5,250.8 L342.0,251.0 L342.5,251.3 L343.0,251.5 L343.5,251.8 L344.0,252.0 L344.5,252.3 L345.0,252.6 L345.5,253.0 L346.0,253.4 L346.5,253.9 L347.0,254.4 L347.5,254.9 L348.0,255.5 L348.5,256.1 L349.0,256.7 L349.5,257.4 L350.0,258.0 L350.5,258.6 L351.0,259.3 L351.5,259.9 L352.0,260.5 L352.5,261.0 L353.0,261.6 L353.5,262.2 L354.0,262.7 L354.5,263.3 L355.0,263.9 L355.5,264.4 L356.0,265.0 L356.5,265.6 L357.0,266.2 L357.5,266.8 L358.0,267.4 L358.5,268.0 L359.0,268.6 L359.5,269.2 L360.0,269.8 L360.5,270.5 L361.0,271.1 L361.5,271.7 L362.0,272.3 L362.5,272.9 L363.0,273.6 L363.5,274.2 L364.0,274.8 L364.5,275.5 L365.0,276.1 L365.5,276.8 L366.0,277.5 L366.5,278.3 L367.0,279.0 L367.5,279.8 L368.0,280.7 L368.5,281.6 L369.0,282.5 L369.5,283.6 L370.0,284.7 L370.5,285.9 L371.0,287.2 L371.5,288.5 L372.0,289.7 L372.5,291.0 L373.0,292.3 L373.5,293.5 L374.0,294.6 L374.5,295.7 L375.0,296.8 L375.5,297.8 L376.0,298.8 L376.5,299.8 L377.0,300.8 L377.5,301.7 L378.0,302.7 L378.5,303.6 L379.0,304.6 L379.5,305.5 L380.0,306.5 L380.5,307.5 L381.0,308.5 L381.5,309.5 L382.0,310.5 L382.5,311.6 L383.0,312.7 L383.5,313.9 L384.0,315.2 L384.5,316.4 L385.0,317.7 L385.5,319.0 L386.0,320.3 L386.5,321.7 L387.0,322.9 L387.5,324.2 L388.0,325.4 L388.5,326.6 L389.0,327.7 L389.5,328.7 L390.0,329.7 L390.5,330.6 L391.0,331.4 L391.5,332.1 L392.0,332.8 L392.5,333.4 L393.0,334.0 L393.5,334.6 L394.0,335.1 L394.5,335.7 L395.0,336.3 L395.5,336.9 L396.0,337.5 L396.5,338.2 L397.0,338.9 L397.5,339.7 L398.0,340.5 L398.5,341.5 L399.0,342.5 L399.5,343.5 L400.0,344.6 L400.5,345.6 L401.0,346.7 L401.5,347.7 L402.0,348.6 L402.5,349.5 L403.0,350.4 L403.5,351.3 L404.0,352.2 L404.5,353.2 L405.0,354.1 L405.5,355.0 L406.0,355.8 L406.5,356.5 L407.0,357.0 L407.5,357.3 L408.0,357.5 L408.5,357.5 L409.0,357.4 L409.5,357.4 L410.0,357.2 L410.5,357.1 L411.0,356.9 L411.5,356.8 L412.0,356.6 L412.5,356.3 L413.0,356.1 L413.5,355.9 L414.0,355.6 L414.5,355.3 L415.0,355.0 L415.5,354.5 L416.0,354.1 L416.5,353.5 L417.0,353.0 L417.5,352.3 L418.0,351.7 L418.5,351.0 L419.0,350.3 L419.5,349.5 L420.0,348.6 L420.5,347.7 L421.0,346.5 L421.5,345.3 L422.0,343.9 L422.5,342.5 L423.0,340.9 L423.5,339.2 L424.0,337.5 L424.5,335.7 L425.0,333.8 L425.5,331.9 L426.0,329.9 L426.5,327.8 L427.0,325.7 L427.5,323.4 L428.0,320.9 L428.5,318.3 L429.0,315.4 L429.5,312.5 L430.0,309.4 L430.5,306.2 L431.0,302.8 L431.5,299.3 L432.0,295.7 L432.5,292.1 L433.0,287.9 L433.5,282.5 L434.0,276.4 L434.5,269.9 L435.0,263.3 L435.5,257.0 L436.0,251.4 L436.5,246.8 L437.0,243.6 L437.5,242.1 L438.0,242.4 L438.5,243.7 L439.0,245.7 L439.5,248.4 L440.0,251.6 L440.5,255.1 L441.0,259.0 L441.5,262.9 L442.0,266.8 L442.5,270.5 L443.0,274.2 L443.5,278.2 L444.0,282.6 L444.5,287.3 L445.0,292.2 L445.5,297.1 L446.0,302.1 L446.5,307.1 L447.0,311.9 L447.5,316.4 L448.0,320.7 L448.5,324.7 L449.0,328.3 L449.5,332.1 L450.0,335.8 L450.5,339.6 L451.0,343.3 L451.5,347.0 L452.0,350.6 L452.5,354.1 L453.0,357.4 L453.5,360.5 L454.0,363.4 L454.5,366.0 L455.0,368.4 L455.5,370.3 L456.0,372.0 L456.5,373.2 L457.0,374.1 L457.5,374.9 L458.0,375.6 L458.5,376.2 L459.0,376.8 L459.5,377.4 L460.0,377.9 L460.5,378.4 L461.0,378.8 L461.5,379.2 L462.0,379.6 L462.5,380.0 L463.0,380.4 L463.5,380.7 L464.0,381.1 L464.5,381.5 L465.0,381.8 L465.5,382.2 L466.0,382.6 L466.5,383.1 L467.0,383.5 L467.5,383.9 L468.0,384.2 L468.5,384.6 L469.0,384.8 L469.5,385.1 L470.0,385.2 L470.5,385.3 L471.0,385.3 L471.5,385.3 L472.0,385.3 L472.5,385.3 L473.0,385.3 L473.5,385.3 L474.0,385.3 L474.5,385.3 L475.0,385.3 L475.5,385.3 L476.0,385.2 L476.5,385.2 L477.0,385.2 L477.5,385.2 L478.0,385.2 L478.5,385.1 L479.0,385.1 L479.5,385.1 L480.0,385.0 L480.5,385.0 L481.0,384.9 L481.5,384.9 L482.0,384.8 L482.5,384.7 L482.8,384.7" fill="none" stroke="#2f6eb4" stroke-width="3.0" stroke-linejoin="round" stroke-linecap="round"/>
<path d="M91.0,567.7 L91.5,567.7 L92.0,567.7 L92.5,567.7 L93.0,567.7 L93.5,567.7 L94.0,567.7 L94.5,567.7 L95.0,567.7 L95.5,567.7 L96.0,567.7 L96.5,567.7 L97.0,567.7 L97.5,567.7 L98.0,567.7 L98.5,567.7 L99.0,567.7 L99.5,567.7 L100.0,567.7 L100.5,567.7 L101.0,567.7 L101.5,567.7 L102.0,567.7 L102.5,567.7 L103.0,567.7 L103.5,567.7 L104.0,567.7 L104.5,567.7 L105.0,567.7 L105.5,567.7 L106.0,567.7 L106.5,567.7 L107.0,567.7 L107.5,567.7 L108.0,567.7 L108.5,567.7 L109.0,567.7 L109.5,567.7 L110.0,567.7 L110.5,567.7 L111.0,567.7 L111.5,567.7 L112.0,567.7 L112.5,567.7 L113.0,567.7 L113.5,567.7 L114.0,567.7 L114.5,567.7 L115.0,567.7 L115.5,567.7 L116.0,567.7 L116.5,567.7 L117.0,567.7 L117.5,567.7 L118.0,567.7 L118.5,567.7 L119.0,567.7 L119.5,567.7 L120.0,567.7 L120.5,567.7 L121.0,567.6 L121.5,567.6 L122.0,567.6 L122.5,567.6 L123.0,567.5 L123.5,567.5 L124.0,567.5 L124.5,567.4 L125.0,567.4 L125.5,567.4 L126.0,567.3 L126.5,567.3 L127.0,567.2 L127.5,567.2 L128.0,567.1 L128.5,567.1 L129.0,567.0 L129.5,566.9 L130.0,566.9 L130.5,566.8 L131.0,566.8 L131.5,566.7 L132.0,566.6 L132.5,566.6 L133.0,566.5 L133.5,566.4 L134.0,566.4 L134.5,566.3 L135.0,566.2 L135.5,566.2 L136.0,566.1 L136.5,566.0 L137.0,566.0 L137.5,565.9 L138.0,565.8 L138.5,565.8 L139.0,565.7 L139.5,565.6 L140.0,565.6 L140.5,565.5 L141.0,565.4 L141.5,565.4 L142.0,565.3 L142.5,565.2 L143.0,565.2 L143.5,565.1 L144.0,565.0 L144.5,565.0 L145.0,564.9 L145.5,564.9 L146.0,564.8 L146.5,564.8 L147.0,564.7 L147.5,564.7 L148.0,564.6 L148.5,564.6 L149.0,564.5 L149.5,564.5 L150.0,564.4 L150.5,564.4 L151.0,564.4 L151.5,564.3 L152.0,564.3 L152.5,564.2 L153.0,564.2 L153.5,564.2 L154.0,564.1 L154.5,564.1 L155.0,564.1 L155.5,564.0 L156.0,564.0 L156.5,564.0 L157.0,563.9 L157.5,563.9 L158.0,563.8 L158.5,563.8 L159.0,563.8 L159.5,563.7 L160.0,563.7 L160.5,563.7 L161.0,563.6 L161.5,563.6 L162.0,563.6 L162.5,563.5 L163.0,563.5 L163.5,563.4 L164.0,563.4 L164.5,563.4 L165.0,563.3 L165.5,563.3 L166.0,563.2 L166.5,563.2 L167.0,563.2 L167.5,563.1 L168.0,563.1 L168.5,563.0 L169.0,563.0 L169.5,562.9 L170.0,562.9 L170.5,562.8 L171.0,562.8 L171.5,562.7 L172.0,562.6 L172.5,562.6 L173.0,562.5 L173.5,562.4 L174.0,562.4 L174.5,562.3 L175.0,562.2 L175.5,562.1 L176.0,562.1 L176.5,562.0 L177.0,561.9 L177.5,561.8 L178.0,561.7 L178.5,561.6 L179.0,561.5 L179.5,561.4 L180.0,561.3 L180.5,561.2 L181.0,561.1 L181.5,561.0 L182.0,560.8 L182.5,560.7 L183.0,560.6 L183.5,560.5 L184.0,560.4 L184.5,560.2 L185.0,560.1 L185.5,560.0 L186.0,559.9 L186.5,559.7 L187.0,559.6 L187.5,559.5 L188.0,559.3 L188.5,559.2 L189.0,559.1 L189.5,559.0 L190.0,558.8 L190.5,558.7 L191.0,558.5 L191.5,558.4 L192.0,558.3 L192.5,558.1 L193.0,558.0 L193.5,557.9 L194.0,557.7 L194.5,557.6 L195.0,557.5 L195.5,557.3 L196.0,557.2 L196.5,557.1 L197.0,557.0 L197.5,556.8 L198.0,556.7 L198.5,556.6 L199.0,556.4 L199.5,556.3 L200.0,556.2 L200.5,556.1 L201.0,555.9 L201.5,555.8 L202.0,555.7 L202.5,555.6 L203.0,555.4 L203.5,555.3 L204.0,555.2 L204.5,555.1 L205.0,554.9 L205.5,554.8 L206.0,554.7 L206.5,554.5 L207.0,554.4 L207.5,554.3 L208.0,554.1 L208.5,554.0 L209.0,553.9 L209.5,553.7 L210.0,553.6 L210.5,553.5 L211.0,553.3 L211.5,553.2 L212.0,553.0 L212.5,552.9 L213.0,552.7 L213.5,552.6 L214.0,552.4 L214.5,552.3 L215.0,552.1 L215.5,551.9 L216.0,551.8 L216.5,551.6 L217.0,551.4 L217.5,551.2 L218.0,551.1 L218.5,550.9 L219.0,550.7 L219.5,550.5 L220.0,550.3 L220.5,550.1 L221.0,549.9 L221.5,549.6 L222.0,549.4 L222.5,549.2 L223.0,549.0 L223.5,548.8 L224.0,548.5 L224.5,548.3 L225.0,548.1 L225.5,547.8 L226.0,547.6 L226.5,547.4 L227.0,547.1 L227.5,546.9 L228.0,546.7 L228.5,546.4 L229.0,546.2 L229.5,546.0 L230.0,545.8 L230.5,545.5 L231.0,545.3 L231.5,545.1 L232.0,544.9 L232.5,544.6 L233.0,544.4 L233.5,544.2 L234.0,544.0 L234.5,543.8 L235.0,543.6 L235.5,543.4 L236.0,543.2 L236.5,543.0 L237.0,542.8 L237.5,542.5 L238.0,542.3 L238.5,542.1 L239.0,541.9 L239.5,541.7 L240.0,541.5 L240.5,541.3 L241.0,541.1 L241.5,540.9 L242.0,540.7 L242.5,540.4 L243.0,540.2 L243.5,540.0 L244.0,539.8 L244.5,539.5 L245.0,539.3 L245.5,539.1 L246.0,538.9 L246.5,538.6 L247.0,538.4 L247.5,538.2 L248.0,538.0 L248.5,537.7 L249.0,537.5 L249.5,537.3 L250.0,537.1 L250.5,536.8 L251.0,536.6 L251.5,536.4 L252.0,536.1 L252.5,535.9 L253.0,535.7 L253.5,535.4 L254.0,535.2 L254.5,535.0 L255.0,534.7 L255.5,534.5 L256.0,534.2 L256.5,534.0 L257.0,533.7 L257.5,533.5 L258.0,533.2 L258.5,533.0 L259.0,532.7 L259.5,532.4 L260.0,532.2 L260.5,531.9 L261.0,531.6 L261.5,531.4 L262.0,531.1 L262.5,530.8 L263.0,530.5 L263.5,530.2 L264.0,529.9 L264.5,529.6 L265.0,529.3 L265.5,529.0 L266.0,528.7 L266.5,528.3 L267.0,528.0 L267.5,527.6 L268.0,527.2 L268.5,526.8 L269.0,526.4 L269.5,526.0 L270.0,525.6 L270.5,525.2 L271.0,524.8 L271.5,524.4 L272.0,524.0 L272.5,523.6 L273.0,523.2 L273.5,522.8 L274.0,522.5 L274.5,522.1 L275.0,521.7 L275.5,521.4 L276.0,521.0 L276.5,520.7 L277.0,520.4 L277.5,520.1 L278.0,519.8 L278.5,519.5 L279.0,519.2 L279.5,519.0 L280.0,518.7 L280.5,518.4 L281.0,518.2 L281.5,517.9 L282.0,517.7 L282.5,517.4 L283.0,517.2 L283.5,516.9 L284.0,516.7 L284.5,516.4 L285.0,516.2 L285.5,515.9 L286.0,515.6 L286.5,515.3 L287.0,515.0 L287.5,514.7 L288.0,514.4 L288.5,514.1 L289.0,513.7 L289.5,513.3 L290.0,512.9 L290.5,512.5 L291.0,512.1 L291.5,511.7 L292.0,511.2 L292.5,510.8 L293.0,510.4 L293.5,509.9 L294.0,509.5 L294.5,509.1 L295.0,508.6 L295.5,508.2 L296.0,507.8 L296.5,507.4 L297.0,507.1 L297.5,506.7 L298.0,506.4 L298.5,506.1 L299.0,505.8 L299.5,505.5 L300.0,505.2 L300.5,504.9 L301.0,504.7 L301.5,504.4 L302.0,504.1 L302.5,503.9 L303.0,503.6 L303.5,503.4 L304.0,503.1 L304.5,502.9 L305.0,502.6 L305.5,502.4 L306.0,502.2 L306.5,501.9 L307.0,501.7 L307.5,501.5 L308.0,501.3 L308.5,501.0 L309.0,500.8 L309.5,500.6 L310.0,500.4 L310.5,500.1 L311.0,499.9 L311.5,499.7 L312.0,499.4 L312.5,499.2 L313.0,499.0 L313.5,498.7 L314.0,498.5 L314.5,498.3 L315.0,498.0 L315.5,497.8 L316.0,497.6 L316.5,497.3 L317.0,497.1 L317.5,496.9 L318.0,496.6 L318.5,496.4 L319.0,496.2 L319.5,495.9 L320.0,495.7 L320.5,495.5 L321.0,495.2 L321.5,495.0 L322.0,494.8 L322.5,494.6 L323.0,494.4 L323.5,494.2 L324.0,494.0 L324.5,493.8 L325.0,493.6 L325.5,493.4 L326.0,493.2 L326.5,493.0 L327.0,492.8 L327.5,492.6 L328.0,492.5 L328.5,492.3 L329.0,492.1 L329.5,492.0 L330.0,491.8 L330.5,491.7 L331.0,491.6 L331.5,491.4 L332.0,491.3 L332.5,491.1 L333.0,491.0 L333.5,490.9 L334.0,490.8 L334.5,490.6 L335.0,490.5 L335.5,490.4 L336.0,490.3 L336.5,490.1 L337.0,490.0 L337.5,489.9 L338.0,489.8 L338.5,489.6 L339.0,489.5 L339.5,489.3 L340.0,489.2 L340.5,489.0 L341.0,488.8 L341.5,488.7 L342.0,488.5 L342.5,488.3 L343.0,488.2 L343.5,488.1 L344.0,488.0 L344.5,487.9 L345.0,487.8 L345.5,487.7 L346.0,487.7 L346.5,487.7 L347.0,487.7 L347.5,487.7 L348.0,487.8 L348.5,487.8 L349.0,487.9 L349.5,488.0 L350.0,488.1 L350.5,488.2 L351.0,488.3 L351.5,488.4 L352.0,488.5 L352.5,488.6 L353.0,488.8 L353.5,488.9 L354.0,489.0 L354.5,489.2 L355.0,489.3 L355.5,489.5 L356.0,489.6 L356.5,489.8 L357.0,489.9 L357.5,490.1 L358.0,490.3 L358.5,490.5 L359.0,490.7 L359.5,491.0 L360.0,491.2 L360.5,491.5 L361.0,491.8 L361.5,492.1 L362.0,492.4 L362.5,492.7 L363.0,493.0 L363.5,493.3 L364.0,493.6 L364.5,494.0 L365.0,494.3 L365.5,494.6 L366.0,494.9 L366.5,495.3 L367.0,495.6 L367.5,495.9 L368.0,496.2 L368.5,496.5 L369.0,496.8 L369.5,497.1 L370.0,497.5 L370.5,497.8 L371.0,498.1 L371.5,498.4 L372.0,498.8 L372.5,499.1 L373.0,499.4 L373.5,499.8 L374.0,500.1 L374.5,500.5 L375.0,500.8 L375.5,501.2 L376.0,501.5 L376.5,501.9 L377.0,502.2 L377.5,502.6 L378.0,502.9 L378.5,503.2 L379.0,503.6 L379.5,503.9 L380.0,504.3 L380.5,504.6 L381.0,505.0 L381.5,505.3 L382.0,505.7 L382.5,506.1 L383.0,506.4 L383.5,506.8 L384.0,507.2 L384.5,507.7 L385.0,508.1 L385.5,508.5 L386.0,509.0 L386.5,509.5 L387.0,510.0 L387.5,510.6 L388.0,511.2 L388.5,511.9 L389.0,512.5 L389.5,513.2 L390.0,514.0 L390.5,514.7 L391.0,515.5 L391.5,516.2 L392.0,517.0 L392.5,517.8 L393.0,518.6 L393.5,519.4 L394.0,520.1 L394.5,520.9 L395.0,521.6 L395.5,522.3 L396.0,523.0 L396.5,523.6 L397.0,524.3 L397.5,525.0 L398.0,525.7 L398.5,526.5 L399.0,527.2 L399.5,528.0 L400.0,528.8 L400.5,529.5 L401.0,530.3 L401.5,531.1 L402.0,531.8 L402.5,532.5 L403.0,533.2 L403.5,533.8 L404.0,534.5 L404.5,535.0 L405.0,535.5 L405.5,536.0 L406.0,536.3 L406.5,536.6 L407.0,536.9 L407.5,537.0 L408.0,537.1 L408.5,537.1 L409.0,536.9 L409.5,536.6 L410.0,536.3 L410.5,535.8 L411.0,535.3 L411.5,534.7 L412.0,534.0 L412.5,533.4 L413.0,532.6 L413.5,531.9 L414.0,531.1 L414.5,530.4 L415.0,529.6 L415.5,528.9 L416.0,528.2 L416.5,527.5 L417.0,526.9 L417.5,526.3 L418.0,525.8 L418.5,525.2 L419.0,524.7 L419.5,524.1 L420.0,523.5 L420.5,522.9 L421.0,522.2 L421.5,521.5 L422.0,520.6 L422.5,519.7 L423.0,518.7 L423.5,517.5 L424.0,516.0 L424.5,513.9 L425.0,511.3 L425.5,508.3 L426.0,504.8 L426.5,501.1 L427.0,497.1 L427.5,492.9 L428.0,488.6 L428.5,484.2 L429.0,479.2 L429.5,472.9 L430.0,465.7 L430.5,458.0 L431.0,450.5 L431.5,443.6 L432.0,437.8 L432.5,433.7 L433.0,431.0 L433.5,428.4 L434.0,426.0 L434.5,424.0 L435.0,422.5 L435.5,421.5 L436.0,421.1 L436.5,421.6 L437.0,422.8 L437.5,424.8 L438.0,427.3 L438.5,430.2 L439.0,433.3 L439.5,436.5 L440.0,440.1 L440.5,444.8 L441.0,450.5 L441.5,456.7 L442.0,463.3 L442.5,469.9 L443.0,476.3 L443.5,482.2 L444.0,487.7 L444.5,493.4 L445.0,499.2 L445.5,505.0 L446.0,510.6 L446.5,516.1 L447.0,521.1 L447.5,525.7 L448.0,529.7 L448.5,532.9 L449.0,535.6 L449.5,538.2 L450.0,540.6 L450.5,542.9 L451.0,545.1 L451.5,547.1 L452.0,548.9 L452.5,550.6 L453.0,552.0 L453.5,553.3 L454.0,554.4 L454.5,555.3 L455.0,556.0 L455.5,556.7 L456.0,557.3 L456.5,557.8 L457.0,558.4 L457.5,558.9 L458.0,559.4 L458.5,559.8 L459.0,560.2 L459.5,560.6 L460.0,561.0 L460.5,561.3 L461.0,561.7 L461.5,562.0 L462.0,562.3 L462.5,562.5 L463.0,562.8 L463.5,563.0 L464.0,563.3 L464.5,563.5 L465.0,563.7 L465.5,563.9 L466.0,564.2 L466.5,564.4 L467.0,564.6 L467.5,564.8 L468.0,564.9 L468.5,565.1 L469.0,565.3 L469.5,565.4 L470.0,565.6 L470.5,565.7 L471.0,565.8 L471.5,565.9 L472.0,566.0 L472.5,566.1 L473.0,566.1 L473.5,566.2 L474.0,566.2 L474.5,566.3 L475.0,566.3 L475.5,566.4 L476.0,566.4 L476.5,566.5 L477.0,566.5 L477.5,566.5 L478.0,566.6 L478.5,566.6 L479.0,566.6 L479.5,566.7 L480.0,566.7 L480.5,566.7 L481.0,566.7 L481.5,566.7 L481.8,566.7" fill="none" stroke="#2f6eb4" stroke-width="3.0" stroke-linejoin="round" stroke-linecap="round"/>
<path d="M91.0,749.3 L91.5,749.3 L92.0,749.3 L92.5,749.3 L93.0,749.3 L93.5,749.3 L94.0,749.3 L94.5,749.2 L95.0,749.2 L95.5,749.2 L96.0,749.2 L96.5,749.2 L97.0,749.2 L97.5,749.2 L98.0,749.2 L98.5,749.2 L99.0,749.2 L99.5,749.2 L100.0,749.1 L100.5,749.1 L101.0,749.1 L101.5,749.1 L102.0,749.1 L102.5,749.1 L103.0,749.1 L103.5,749.1 L104.0,749.1 L104.5,749.1 L105.0,749.0 L105.5,749.0 L106.0,749.0 L106.5,749.0 L107.0,749.0 L107.5,749.0 L108.0,749.0 L108.5,749.0 L109.0,748.9 L109.5,748.9 L110.0,748.9 L110.5,748.9 L111.0,748.9 L111.5,748.9 L112.0,748.9 L112.5,748.9 L113.0,748.8 L113.5,748.8 L114.0,748.8 L114.5,748.8 L115.0,748.8 L115.5,748.8 L116.0,748.8 L116.5,748.7 L117.0,748.7 L117.5,748.7 L118.0,748.7 L118.5,748.7 L119.0,748.7 L119.5,748.7 L120.0,748.6 L120.5,748.6 L121.0,748.6 L121.5,748.6 L122.0,748.6 L122.5,748.6 L123.0,748.6 L123.5,748.5 L124.0,748.5 L124.5,748.5 L125.0,748.5 L125.5,748.5 L126.0,748.5 L126.5,748.5 L127.0,748.4 L127.5,748.4 L128.0,748.4 L128.5,748.4 L129.0,748.4 L129.5,748.4 L130.0,748.3 L130.5,748.3 L131.0,748.3 L131.5,748.3 L132.0,748.3 L132.5,748.3 L133.0,748.2 L133.5,748.2 L134.0,748.2 L134.5,748.2 L135.0,748.2 L135.5,748.1 L136.0,748.1 L136.5,748.1 L137.0,748.1 L137.5,748.1 L138.0,748.0 L138.5,748.0 L139.0,748.0 L139.5,748.0 L140.0,748.0 L140.5,747.9 L141.0,747.9 L141.5,747.9 L142.0,747.9 L142.5,747.8 L143.0,747.8 L143.5,747.8 L144.0,747.8 L144.5,747.8 L145.0,747.7 L145.5,747.7 L146.0,747.7 L146.5,747.7 L147.0,747.6 L147.5,747.6 L148.0,747.6 L148.5,747.5 L149.0,747.5 L149.5,747.5 L150.0,747.5 L150.5,747.4 L151.0,747.4 L151.5,747.4 L152.0,747.3 L152.5,747.3 L153.0,747.3 L153.5,747.3 L154.0,747.2 L154.5,747.2 L155.0,747.2 L155.5,747.1 L156.0,747.1 L156.5,747.0 L157.0,747.0 L157.5,746.9 L158.0,746.9 L158.5,746.8 L159.0,746.8 L159.5,746.7 L160.0,746.7 L160.5,746.6 L161.0,746.6 L161.5,746.5 L162.0,746.5 L162.5,746.4 L163.0,746.3 L163.5,746.3 L164.0,746.2 L164.5,746.1 L165.0,746.1 L165.5,746.0 L166.0,745.9 L166.5,745.9 L167.0,745.8 L167.5,745.7 L168.0,745.6 L168.5,745.6 L169.0,745.5 L169.5,745.4 L170.0,745.3 L170.5,745.3 L171.0,745.2 L171.5,745.1 L172.0,745.1 L172.5,745.0 L173.0,744.9 L173.5,744.8 L174.0,744.8 L174.5,744.7 L175.0,744.6 L175.5,744.6 L176.0,744.5 L176.5,744.4 L177.0,744.4 L177.5,744.3 L178.0,744.2 L178.5,744.2 L179.0,744.1 L179.5,744.1 L180.0,744.0 L180.5,744.0 L181.0,743.9 L181.5,743.8 L182.0,743.8 L182.5,743.7 L183.0,743.7 L183.5,743.6 L184.0,743.6 L184.5,743.5 L185.0,743.5 L185.5,743.4 L186.0,743.4 L186.5,743.3 L187.0,743.3 L187.5,743.2 L188.0,743.2 L188.5,743.1 L189.0,743.1 L189.5,743.0 L190.0,742.9 L190.5,742.9 L191.0,742.8 L191.5,742.8 L192.0,742.7 L192.5,742.7 L193.0,742.6 L193.5,742.5 L194.0,742.5 L194.5,742.4 L195.0,742.4 L195.5,742.3 L196.0,742.2 L196.5,742.2 L197.0,742.1 L197.5,742.0 L198.0,742.0 L198.5,741.9 L199.0,741.8 L199.5,741.7 L200.0,741.7 L200.5,741.6 L201.0,741.5 L201.5,741.4 L202.0,741.3 L202.5,741.2 L203.0,741.1 L203.5,741.0 L204.0,740.9 L204.5,740.8 L205.0,740.7 L205.5,740.5 L206.0,740.4 L206.5,740.3 L207.0,740.2 L207.5,740.0 L208.0,739.9 L208.5,739.8 L209.0,739.6 L209.5,739.5 L210.0,739.4 L210.5,739.2 L211.0,739.1 L211.5,738.9 L212.0,738.8 L212.5,738.7 L213.0,738.5 L213.5,738.4 L214.0,738.3 L214.5,738.1 L215.0,738.0 L215.5,737.9 L216.0,737.8 L216.5,737.6 L217.0,737.5 L217.5,737.4 L218.0,737.3 L218.5,737.2 L219.0,737.1 L219.5,737.0 L220.0,736.9 L220.5,736.8 L221.0,736.7 L221.5,736.6 L222.0,736.5 L222.5,736.5 L223.0,736.4 L223.5,736.3 L224.0,736.2 L224.5,736.1 L225.0,736.1 L225.5,736.0 L226.0,735.9 L226.5,735.8 L227.0,735.7 L227.5,735.7 L228.0,735.6 L228.5,735.5 L229.0,735.4 L229.5,735.4 L230.0,735.3 L230.5,735.2 L231.0,735.1 L231.5,735.0 L232.0,735.0 L232.5,734.9 L233.0,734.8 L233.5,734.7 L234.0,734.6 L234.5,734.5 L235.0,734.4 L235.5,734.3 L236.0,734.2 L236.5,734.1 L237.0,734.0 L237.5,733.9 L238.0,733.7 L238.5,733.6 L239.0,733.5 L239.5,733.4 L240.0,733.2 L240.5,733.1 L241.0,732.9 L241.5,732.7 L242.0,732.5 L242.5,732.4 L243.0,732.2 L243.5,732.0 L244.0,731.8 L244.5,731.6 L245.0,731.3 L245.5,731.1 L246.0,730.9 L246.5,730.7 L247.0,730.5 L247.5,730.3 L248.0,730.0 L248.5,729.8 L249.0,729.6 L249.5,729.4 L250.0,729.1 L250.5,728.9 L251.0,728.7 L251.5,728.5 L252.0,728.3 L252.5,728.1 L253.0,727.9 L253.5,727.7 L254.0,727.5 L254.5,727.3 L255.0,727.1 L255.5,726.9 L256.0,726.7 L256.5,726.6 L257.0,726.4 L257.5,726.2 L258.0,726.1 L258.5,725.9 L259.0,725.8 L259.5,725.6 L260.0,725.5 L260.5,725.3 L261.0,725.2 L261.5,725.0 L262.0,724.9 L262.5,724.7 L263.0,724.6 L263.5,724.4 L264.0,724.2 L264.5,724.1 L265.0,723.9 L265.5,723.8 L266.0,723.6 L266.5,723.5 L267.0,723.3 L267.5,723.1 L268.0,723.0 L268.5,722.8 L269.0,722.6 L269.5,722.4 L270.0,722.2 L270.5,722.0 L271.0,721.8 L271.5,721.6 L272.0,721.4 L272.5,721.2 L273.0,721.0 L273.5,720.7 L274.0,720.4 L274.5,720.2 L275.0,719.9 L275.5,719.5 L276.0,719.2 L276.5,718.9 L277.0,718.6 L277.5,718.3 L278.0,718.0 L278.5,717.7 L279.0,717.4 L279.5,717.1 L280.0,716.8 L280.5,716.6 L281.0,716.3 L281.5,716.0 L282.0,715.8 L282.5,715.5 L283.0,715.3 L283.5,715.0 L284.0,714.7 L284.5,714.5 L285.0,714.2 L285.5,713.9 L286.0,713.7 L286.5,713.4 L287.0,713.1 L287.5,712.8 L288.0,712.5 L288.5,712.2 L289.0,711.9 L289.5,711.6 L290.0,711.3 L290.5,711.0 L291.0,710.7 L291.5,710.4 L292.0,710.0 L292.5,709.7 L293.0,709.3 L293.5,708.9 L294.0,708.5 L294.5,708.0 L295.0,707.5 L295.5,706.9 L296.0,706.3 L296.5,705.6 L297.0,704.8 L297.5,704.0 L298.0,703.1 L298.5,702.2 L299.0,701.2 L299.5,700.2 L300.0,699.1 L300.5,698.0 L301.0,696.9 L301.5,695.8 L302.0,694.6 L302.5,693.4 L303.0,692.1 L303.5,690.6 L304.0,689.1 L304.5,687.5 L305.0,685.9 L305.5,684.3 L306.0,682.7 L306.5,681.2 L307.0,679.7 L307.5,678.2 L308.0,676.6 L308.5,674.8 L309.0,673.1 L309.5,671.4 L310.0,669.9 L310.5,668.7 L311.0,667.8 L311.5,667.3 L312.0,667.3 L312.5,667.4 L313.0,667.7 L313.5,668.0 L314.0,668.3 L314.5,668.8 L315.0,669.2 L315.5,669.8 L316.0,670.7 L316.5,671.8 L317.0,673.2 L317.5,674.7 L318.0,676.4 L318.5,678.1 L319.0,679.8 L319.5,681.5 L320.0,683.1 L320.5,684.7 L321.0,686.5 L321.5,688.4 L322.0,690.4 L322.5,692.4 L323.0,694.5 L323.5,696.4 L324.0,698.3 L324.5,699.9 L325.0,701.4 L325.5,702.5 L326.0,703.3 L326.5,703.8 L327.0,704.2 L327.5,704.6 L328.0,704.9 L328.5,705.2 L329.0,705.5 L329.5,705.8 L330.0,706.1 L330.5,706.3 L331.0,706.5 L331.5,706.7 L332.0,706.9 L332.5,707.0 L333.0,707.2 L333.5,707.3 L334.0,707.5 L334.5,707.6 L335.0,707.7 L335.5,707.8 L336.0,707.9 L336.5,708.0 L337.0,708.1 L337.5,708.2 L338.0,708.2 L338.5,708.3 L339.0,708.4 L339.5,708.5 L340.0,708.5 L340.5,708.6 L341.0,708.7 L341.5,708.7 L342.0,708.8 L342.5,708.8 L343.0,708.9 L343.5,708.9 L344.0,709.0 L344.5,709.1 L345.0,709.1 L345.5,709.2 L346.0,709.2 L346.5,709.3 L347.0,709.3 L347.5,709.4 L348.0,709.5 L348.5,709.5 L349.0,709.6 L349.5,709.7 L350.0,709.7 L350.5,709.8 L351.0,709.8 L351.5,709.9 L352.0,710.0 L352.5,710.0 L353.0,710.1 L353.5,710.1 L354.0,710.2 L354.5,710.2 L355.0,710.3 L355.5,710.3 L356.0,710.4 L356.5,710.4 L357.0,710.5 L357.5,710.6 L358.0,710.6 L358.5,710.7 L359.0,710.7 L359.5,710.8 L360.0,710.9 L360.5,710.9 L361.0,711.0 L361.5,711.1 L362.0,711.1 L362.5,711.2 L363.0,711.3 L363.5,711.4 L364.0,711.4 L364.5,711.5 L365.0,711.6 L365.5,711.7 L366.0,711.8 L366.5,711.9 L367.0,712.0 L367.5,712.2 L368.0,712.3 L368.5,712.4 L369.0,712.5 L369.5,712.7 L370.0,712.8 L370.5,713.0 L371.0,713.1 L371.5,713.3 L372.0,713.4 L372.5,713.6 L373.0,713.8 L373.5,714.0 L374.0,714.2 L374.5,714.5 L375.0,714.7 L375.5,715.0 L376.0,715.3 L376.5,715.6 L377.0,715.9 L377.5,716.2 L378.0,716.5 L378.5,716.7 L379.0,717.0 L379.5,717.2 L380.0,717.4 L380.5,717.6 L381.0,717.7 L381.5,717.8 L382.0,717.9 L382.5,717.9 L383.0,717.9 L383.5,717.9 L384.0,717.9 L384.5,717.9 L385.0,717.9 L385.5,717.9 L386.0,717.9 L386.5,717.9 L387.0,717.8 L387.5,717.8 L388.0,717.8 L388.5,717.8 L389.0,717.8 L389.5,717.7 L390.0,717.7 L390.5,717.7 L391.0,717.7 L391.5,717.7 L392.0,717.6 L392.5,717.6 L393.0,717.6 L393.5,717.5 L394.0,717.5 L394.5,717.5 L395.0,717.4 L395.5,717.4 L396.0,717.3 L396.5,717.3 L397.0,717.2 L397.5,717.2 L398.0,717.1 L398.5,717.1 L399.0,716.9 L399.5,716.7 L400.0,716.3 L400.5,715.9 L401.0,715.3 L401.5,714.7 L402.0,713.9 L402.5,713.2 L403.0,712.3 L403.5,711.5 L404.0,710.6 L404.5,709.7 L405.0,708.7 L405.5,707.8 L406.0,706.8 L406.5,705.9 L407.0,705.0 L407.5,704.1 L408.0,703.3 L408.5,702.5 L409.0,701.7 L409.5,701.0 L410.0,700.2 L410.5,699.4 L411.0,698.6 L411.5,697.7 L412.0,696.9 L412.5,696.1 L413.0,695.3 L413.5,694.5 L414.0,693.7 L414.5,692.9 L415.0,692.1 L415.5,691.3 L416.0,690.6 L416.5,689.8 L417.0,689.1 L417.5,688.4 L418.0,687.8 L418.5,687.2 L419.0,686.6 L419.5,686.1 L420.0,685.7 L420.5,685.2 L421.0,684.8 L421.5,684.3 L422.0,683.9 L422.5,683.4 L423.0,682.9 L423.5,682.3 L424.0,681.7 L424.5,681.1 L425.0,680.4 L425.5,679.5 L426.0,678.6 L426.5,677.6 L427.0,676.3 L427.5,674.2 L428.0,671.6 L428.5,668.4 L429.0,664.9 L429.5,661.1 L430.0,657.2 L430.5,653.3 L431.0,649.5 L431.5,645.9 L432.0,642.3 L432.5,638.1 L433.0,633.6 L433.5,628.9 L434.0,624.3 L434.5,620.0 L435.0,616.2 L435.5,613.2 L436.0,611.1 L436.5,610.1 L437.0,610.2 L437.5,610.7 L438.0,611.5 L438.5,612.6 L439.0,613.9 L439.5,615.4 L440.0,617.0 L440.5,618.7 L441.0,620.9 L441.5,623.9 L442.0,627.8 L442.5,632.2 L443.0,637.1 L443.5,642.2 L444.0,647.3 L444.5,652.3 L445.0,657.4 L445.5,662.9 L446.0,668.8 L446.5,674.9 L447.0,680.9 L447.5,686.6 L448.0,691.9 L448.5,696.6 L449.0,700.7 L449.5,704.8 L450.0,708.8 L450.5,712.7 L451.0,716.4 L451.5,719.8 L452.0,722.8 L452.5,725.5 L453.0,727.6 L453.5,729.2 L454.0,730.2 L454.5,731.1 L455.0,731.9 L455.5,732.7 L456.0,733.5 L456.5,734.2 L457.0,734.8 L457.5,735.4 L458.0,735.9 L458.5,736.4 L459.0,736.9 L459.5,737.3 L460.0,737.7 L460.5,738.1 L461.0,738.4 L461.5,738.6 L462.0,738.9 L462.5,739.1 L463.0,739.3 L463.5,739.5 L464.0,739.7 L464.5,739.8 L465.0,739.9 L465.5,740.1 L466.0,740.2 L466.5,740.3 L467.0,740.4 L467.5,740.5 L468.0,740.6 L468.5,740.7 L469.0,740.8 L469.5,740.9 L470.0,741.0 L470.5,741.1 L471.0,741.2 L471.5,741.3 L472.0,741.4 L472.5,741.5 L473.0,741.7 L473.5,741.8 L474.0,742.0 L474.5,742.1 L475.0,742.3 L475.5,742.4 L476.0,742.6 L476.5,742.7 L477.0,742.9 L477.5,743.1 L478.0,743.2 L478.5,743.4 L479.0,743.6 L479.5,743.8 L480.0,743.9 L480.5,744.1 L481.0,744.3 L481.5,744.5 L481.8,744.6" fill="none" stroke="#2f6eb4" stroke-width="3.0" stroke-linejoin="round" stroke-linecap="round"/>
<line x1="473.5" y1="205.5" x2="484" y2="205.5" stroke="#000" stroke-width="2.6"/>
<path d="M601.0,210.7 L601.5,210.7 L602.0,210.7 L602.5,210.7 L603.0,210.7 L603.5,210.7 L604.0,210.7 L604.5,210.7 L605.0,210.7 L605.5,210.7 L606.0,210.7 L606.5,210.7 L607.0,210.7 L607.5,210.7 L608.0,210.7 L608.5,210.7 L609.0,210.7 L609.5,210.7 L610.0,210.7 L610.5,210.7 L611.0,210.7 L611.5,210.7 L612.0,210.7 L612.5,210.7 L613.0,210.7 L613.5,210.6 L614.0,210.6 L614.5,210.6 L615.0,210.6 L615.5,210.6 L616.0,210.6 L616.5,210.6 L617.0,210.6 L617.5,210.6 L618.0,210.6 L618.5,210.6 L619.0,210.6 L619.5,210.6 L620.0,210.6 L620.5,210.6 L621.0,210.6 L621.5,210.6 L622.0,210.6 L622.5,210.6 L623.0,210.6 L623.5,210.6 L624.0,210.6 L624.5,210.6 L625.0,210.6 L625.5,210.6 L626.0,210.6 L626.5,210.6 L627.0,210.6 L627.5,210.6 L628.0,210.6 L628.5,210.6 L629.0,210.6 L629.5,210.6 L630.0,210.6 L630.5,210.6 L631.0,210.6 L631.5,210.6 L632.0,210.6 L632.5,210.6 L633.0,210.6 L633.5,210.6 L634.0,210.6 L634.5,210.6 L635.0,210.6 L635.5,210.6 L636.0,210.6 L636.5,210.6 L637.0,210.6 L637.5,210.6 L638.0,210.5 L638.5,210.5 L639.0,210.5 L639.5,210.5 L640.0,210.5 L640.5,210.5 L641.0,210.5 L641.5,210.5 L642.0,210.5 L642.5,210.5 L643.0,210.5 L643.5,210.5 L644.0,210.5 L644.5,210.5 L645.0,210.5 L645.5,210.5 L646.0,210.5 L646.5,210.5 L647.0,210.5 L647.5,210.5 L648.0,210.5 L648.5,210.5 L649.0,210.5 L649.5,210.5 L650.0,210.5 L650.5,210.5 L651.0,210.5 L651.5,210.5 L652.0,210.5 L652.5,210.5 L653.0,210.5 L653.5,210.5 L654.0,210.5 L654.5,210.5 L655.0,210.5 L655.5,210.5 L656.0,210.5 L656.5,210.5 L657.0,210.5 L657.5,210.5 L658.0,210.5 L658.5,210.5 L659.0,210.5 L659.5,210.5 L660.0,210.5 L660.5,210.5 L661.0,210.5 L661.5,210.5 L662.0,210.5 L662.5,210.5 L663.0,210.4 L663.5,210.4 L664.0,210.4 L664.5,210.4 L665.0,210.4 L665.5,210.4 L666.0,210.4 L666.5,210.4 L667.0,210.4 L667.5,210.4 L668.0,210.4 L668.5,210.4 L669.0,210.4 L669.5,210.4 L670.0,210.4 L670.5,210.4 L671.0,210.4 L671.5,210.4 L672.0,210.4 L672.5,210.4 L673.0,210.4 L673.5,210.4 L674.0,210.4 L674.5,210.4 L675.0,210.4 L675.5,210.4 L676.0,210.4 L676.5,210.4 L677.0,210.4 L677.5,210.4 L678.0,210.4 L678.5,210.4 L679.0,210.4 L679.5,210.4 L680.0,210.4 L680.5,210.4 L681.0,210.4 L681.5,210.4 L682.0,210.4 L682.5,210.4 L683.0,210.4 L683.5,210.4 L684.0,210.4 L684.5,210.4 L685.0,210.4 L685.5,210.4 L686.0,210.4 L686.5,210.4 L687.0,210.4 L687.5,210.4 L688.0,210.4 L688.5,210.4 L689.0,210.3 L689.5,210.3 L690.0,210.3 L690.5,210.3 L691.0,210.3 L691.5,210.3 L692.0,210.3 L692.5,210.3 L693.0,210.3 L693.5,210.3 L694.0,210.3 L694.5,210.3 L695.0,210.3 L695.5,210.3 L696.0,210.3 L696.5,210.3 L697.0,210.3 L697.5,210.3 L698.0,210.3 L698.5,210.3 L699.0,210.3 L699.5,210.3 L700.0,210.3 L700.5,210.3 L701.0,210.3 L701.5,210.3 L702.0,210.3 L702.5,210.3 L703.0,210.3 L703.5,210.3 L704.0,210.3 L704.5,210.3 L705.0,210.3 L705.5,210.3 L706.0,210.3 L706.5,210.3 L707.0,210.3 L707.5,210.3 L708.0,210.3 L708.5,210.3 L709.0,210.3 L709.5,210.3 L710.0,210.3 L710.5,210.3 L711.0,210.2 L711.5,210.2 L712.0,210.2 L712.5,210.2 L713.0,210.2 L713.5,210.2 L714.0,210.2 L714.5,210.2 L715.0,210.2 L715.5,210.2 L716.0,210.2 L716.5,210.2 L717.0,210.2 L717.5,210.2 L718.0,210.2 L718.5,210.2 L719.0,210.2 L719.5,210.2 L720.0,210.2 L720.5,210.2 L721.0,210.2 L721.5,210.2 L722.0,210.2 L722.5,210.2 L723.0,210.2 L723.5,210.2 L724.0,210.2 L724.5,210.2 L725.0,210.2 L725.5,210.2 L726.0,210.2 L726.5,210.2 L727.0,210.2 L727.5,210.2 L728.0,210.2 L728.5,210.2 L729.0,210.2 L729.5,210.2 L730.0,210.1 L730.5,210.1 L731.0,210.1 L731.5,210.1 L732.0,210.1 L732.5,210.1 L733.0,210.1 L733.5,210.1 L734.0,210.1 L734.5,210.1 L735.0,210.1 L735.5,210.1 L736.0,210.1 L736.5,210.1 L737.0,210.1 L737.5,210.1 L738.0,210.1 L738.5,210.1 L739.0,210.1 L739.5,210.1 L740.0,210.1 L740.5,210.1 L741.0,210.1 L741.5,210.1 L742.0,210.1 L742.5,210.1 L743.0,210.1 L743.5,210.1 L744.0,210.1 L744.5,210.0 L745.0,210.0 L745.5,210.0 L746.0,210.0 L746.5,210.0 L747.0,210.0 L747.5,210.0 L748.0,210.0 L748.5,210.0 L749.0,210.0 L749.5,210.0 L750.0,210.0 L750.5,210.0 L751.0,210.0 L751.5,210.0 L752.0,210.0 L752.5,210.0 L753.0,210.0 L753.5,210.0 L754.0,209.9 L754.5,209.9 L755.0,209.9 L755.5,209.9 L756.0,209.9 L756.5,209.9 L757.0,209.9 L757.5,209.9 L758.0,209.9 L758.5,209.9 L759.0,209.9 L759.5,209.8 L760.0,209.8 L760.5,209.8 L761.0,209.8 L761.5,209.8 L762.0,209.8 L762.5,209.8 L763.0,209.8 L763.5,209.7 L764.0,209.7 L764.5,209.7 L765.0,209.7 L765.5,209.7 L766.0,209.7 L766.5,209.7 L767.0,209.7 L767.5,209.7 L768.0,209.6 L768.5,209.6 L769.0,209.6 L769.5,209.6 L770.0,209.6 L770.5,209.6 L771.0,209.6 L771.5,209.6 L772.0,209.6 L772.5,209.6 L773.0,209.6 L773.5,209.6 L774.0,209.5 L774.5,209.5 L775.0,209.5 L775.5,209.5 L776.0,209.5 L776.5,209.5 L777.0,209.5 L777.5,209.5 L778.0,209.5 L778.5,209.5 L779.0,209.5 L779.5,209.5 L780.0,209.5 L780.5,209.5 L781.0,209.5 L781.5,209.5 L782.0,209.5 L782.5,209.5 L783.0,209.5 L783.5,209.5 L784.0,209.5 L784.5,209.5 L785.0,209.5 L785.5,209.6 L786.0,209.6 L786.5,209.6 L787.0,209.6 L787.5,209.6 L788.0,209.6 L788.5,209.6 L789.0,209.6 L789.5,209.6 L790.0,209.6 L790.5,209.6 L791.0,209.7 L791.5,209.7 L792.0,209.7 L792.5,209.7 L793.0,209.7 L793.5,209.7 L794.0,209.7 L794.5,209.7 L795.0,209.7 L795.5,209.7 L796.0,209.7 L796.5,209.7 L797.0,209.7 L797.5,209.6 L798.0,209.6 L798.5,209.5 L799.0,209.4 L799.5,209.4 L800.0,209.3 L800.5,209.2 L801.0,209.1 L801.5,208.9 L802.0,208.8 L802.5,208.7 L803.0,208.6 L803.5,208.4 L804.0,208.3 L804.5,208.1 L805.0,208.0 L805.5,207.8 L806.0,207.5 L806.5,207.3 L807.0,207.0 L807.5,206.7 L808.0,206.4 L808.5,206.1 L809.0,205.7 L809.5,205.4 L810.0,205.1 L810.5,204.7 L811.0,204.4 L811.5,204.1 L812.0,203.8 L812.5,203.4 L813.0,203.0 L813.5,202.6 L814.0,202.2 L814.5,201.7 L815.0,201.3 L815.5,200.8 L816.0,200.5 L816.5,200.1 L817.0,199.9 L817.5,199.7 L818.0,199.6 L818.5,199.6 L819.0,199.6 L819.5,199.7 L820.0,199.8 L820.5,199.9 L821.0,200.0 L821.5,200.1 L822.0,200.2 L822.5,200.4 L823.0,200.6 L823.5,200.9 L824.0,201.6 L824.5,202.6 L825.0,203.8 L825.5,204.9 L826.0,206.0 L826.5,206.7 L827.0,207.1 L827.5,207.1 L828.0,207.1 L828.5,207.1 L829.0,207.2 L829.5,207.2 L830.0,207.2 L830.5,207.2 L831.0,207.2 L831.5,207.2 L832.0,207.2 L832.5,207.2 L833.0,207.3 L833.5,207.3 L834.0,207.3 L834.5,207.3 L835.0,207.3 L835.5,207.3 L836.0,207.3 L836.5,207.3 L837.0,207.3 L837.5,207.3 L838.0,207.3 L838.5,207.3 L839.0,207.3 L839.5,207.3 L840.0,207.3 L840.5,207.3 L841.0,207.3 L841.5,207.3 L842.0,207.3 L842.5,207.3 L843.0,207.3 L843.5,207.2 L844.0,207.2 L844.5,207.2 L845.0,207.2 L845.5,207.1 L846.0,207.1 L846.5,207.1 L847.0,207.0 L847.5,207.0 L848.0,207.0 L848.5,206.9 L849.0,206.9 L849.5,206.9 L850.0,206.8 L850.5,206.8 L851.0,206.7 L851.5,206.7 L852.0,206.7 L852.5,206.6 L853.0,206.6 L853.5,206.5 L854.0,206.5 L854.5,206.4 L855.0,206.4 L855.5,206.4 L856.0,206.3 L856.5,206.3 L857.0,206.2 L857.5,206.2 L858.0,206.1 L858.5,206.1 L859.0,206.0 L859.5,206.0 L860.0,205.9 L860.5,205.9 L861.0,205.8 L861.5,205.8 L862.0,205.7 L862.5,205.7 L863.0,205.6 L863.5,205.6 L864.0,205.5 L864.5,205.4 L865.0,205.4 L865.5,205.3 L866.0,205.3 L866.5,205.2 L867.0,205.1 L867.5,205.1 L868.0,205.0 L868.5,204.9 L869.0,204.9 L869.5,204.8 L870.0,204.7 L870.5,204.6 L871.0,204.6 L871.5,204.5 L872.0,204.4 L872.5,204.3 L873.0,204.2 L873.5,204.2 L874.0,204.1 L874.5,204.0 L875.0,203.9 L875.5,203.8 L876.0,203.8 L876.5,203.7 L877.0,203.6 L877.5,203.5 L878.0,203.3 L878.5,203.2 L879.0,203.1 L879.5,203.0 L880.0,202.8 L880.5,202.7 L881.0,202.5 L881.5,202.4 L882.0,202.2 L882.5,202.1 L883.0,201.9 L883.5,201.7 L884.0,201.6 L884.5,201.4 L885.0,201.3 L885.5,201.1 L886.0,200.9 L886.5,200.8 L887.0,200.7 L887.5,200.5 L888.0,200.4 L888.5,200.3 L889.0,200.1 L889.5,200.0 L890.0,199.9 L890.5,199.8 L891.0,199.8 L891.5,199.7 L892.0,199.6 L892.5,199.6 L893.0,199.6 L893.5,199.5 L894.0,199.5 L894.5,199.5 L895.0,199.5 L895.5,199.4 L896.0,199.4 L896.5,199.4 L897.0,199.4 L897.5,199.4 L898.0,199.4 L898.5,199.3 L899.0,199.3 L899.5,199.3 L900.0,199.2 L900.5,199.2 L901.0,199.1 L901.5,198.8 L902.0,198.5 L902.5,198.1 L903.0,197.7 L903.5,197.2 L904.0,196.7 L904.5,196.2 L905.0,195.7 L905.5,195.3 L906.0,194.9 L906.5,194.5 L907.0,194.2 L907.5,193.9 L908.0,193.6 L908.5,193.2 L909.0,192.9 L909.5,192.6 L910.0,192.2 L910.5,191.9 L911.0,191.6 L911.5,191.3 L912.0,191.0 L912.5,190.7 L913.0,190.5 L913.5,190.3 L914.0,190.1 L914.5,189.9 L915.0,189.8 L915.5,189.7 L916.0,189.6 L916.5,189.6 L917.0,189.7 L917.5,189.9 L918.0,190.1 L918.5,190.5 L919.0,190.9 L919.5,191.3 L920.0,191.7 L920.5,192.1 L921.0,192.5 L921.5,192.7 L922.0,192.9 L922.5,193.0 L923.0,192.9 L923.5,192.6 L924.0,192.1 L924.5,191.4 L925.0,190.6 L925.5,189.6 L926.0,188.5 L926.5,187.3 L927.0,186.0 L927.5,184.6 L928.0,182.6 L928.5,179.8 L929.0,176.1 L929.5,171.7 L930.0,166.9 L930.5,161.6 L931.0,156.1 L931.5,150.4 L932.0,144.0 L932.5,136.4 L933.0,128.0 L933.5,119.2 L934.0,110.4 L934.5,101.8 L935.0,92.9 L935.5,82.6 L936.0,73.6 L936.5,68.4 L937.0,67.2 L937.5,66.6 L938.0,66.9 L938.5,67.8 L939.0,70.9 L939.5,78.8 L940.0,88.8 L940.5,98.5 L941.0,106.8 L941.5,115.6 L942.0,124.5 L942.5,133.4 L943.0,142.0 L943.5,150.1 L944.0,157.3 L944.5,163.4 L945.0,168.7 L945.5,173.7 L946.0,178.5 L946.5,183.0 L947.0,187.0 L947.5,190.5 L948.0,193.3 L948.5,195.3 L949.0,196.7 L949.5,198.1 L950.0,199.4 L950.5,200.6 L951.0,201.7 L951.5,202.6 L952.0,203.5 L952.5,204.2 L953.0,204.8 L953.5,205.3 L954.0,205.6 L954.5,205.7 L955.0,205.7 L955.5,205.6 L956.0,205.5 L956.5,205.4 L957.0,205.2 L957.5,205.1 L958.0,204.9 L958.5,204.7 L959.0,204.6 L959.5,204.4 L960.0,204.4 L960.5,204.3 L961.0,204.3 L961.5,204.3 L962.0,204.4 L962.5,204.4 L963.0,204.5 L963.5,204.6 L964.0,204.7 L964.5,204.8 L965.0,205.0 L965.5,205.1 L966.0,205.2 L966.5,205.4 L967.0,205.5 L967.5,205.7 L968.0,205.8 L968.5,205.9 L969.0,206.0 L969.5,206.1 L970.0,206.2 L970.5,206.3 L971.0,206.3 L971.5,206.4 L972.0,206.4 L972.5,206.5 L973.0,206.5 L973.5,206.6 L974.0,206.7 L974.5,206.7 L975.0,206.8 L975.5,206.8 L976.0,206.9 L976.5,206.9 L977.0,207.0 L977.5,207.0 L978.0,207.0 L978.5,207.1 L979.0,207.1 L979.5,207.2 L980.0,207.2 L980.5,207.3 L981.0,207.3 L981.5,207.3 L982.0,207.4 L982.5,207.4 L983.0,207.4 L983.5,207.5 L984.0,207.5 L984.5,207.5 L985.0,207.5 L985.5,207.6 L986.0,207.6 L986.5,207.6 L987.0,207.6 L987.5,207.6 L988.0,207.7 L988.5,207.7 L989.0,207.7 L989.5,207.7 L990.0,207.7 L990.5,207.7 L990.8,207.7" fill="none" stroke="#f85549" stroke-width="3.0" stroke-linejoin="round" stroke-linecap="round"/>
<path d="M601.0,392.7 L601.5,392.7 L602.0,392.7 L602.5,392.7 L603.0,392.7 L603.5,392.7 L604.0,392.7 L604.5,392.7 L605.0,392.7 L605.5,392.7 L606.0,392.7 L606.5,392.7 L607.0,392.7 L607.5,392.7 L608.0,392.7 L608.5,392.7 L609.0,392.7 L609.5,392.6 L610.0,392.6 L610.5,392.6 L611.0,392.6 L611.5,392.6 L612.0,392.6 L612.5,392.6 L613.0,392.6 L613.5,392.6 L614.0,392.6 L614.5,392.6 L615.0,392.6 L615.5,392.6 L616.0,392.6 L616.5,392.6 L617.0,392.6 L617.5,392.6 L618.0,392.6 L618.5,392.6 L619.0,392.6 L619.5,392.6 L620.0,392.6 L620.5,392.6 L621.0,392.6 L621.5,392.6 L622.0,392.6 L622.5,392.6 L623.0,392.6 L623.5,392.6 L624.0,392.6 L624.5,392.6 L625.0,392.6 L625.5,392.6 L626.0,392.6 L626.5,392.6 L627.0,392.6 L627.5,392.6 L628.0,392.6 L628.5,392.5 L629.0,392.5 L629.5,392.5 L630.0,392.5 L630.5,392.5 L631.0,392.5 L631.5,392.5 L632.0,392.5 L632.5,392.5 L633.0,392.5 L633.5,392.5 L634.0,392.5 L634.5,392.5 L635.0,392.5 L635.5,392.5 L636.0,392.5 L636.5,392.5 L637.0,392.5 L637.5,392.5 L638.0,392.5 L638.5,392.5 L639.0,392.5 L639.5,392.5 L640.0,392.5 L640.5,392.5 L641.0,392.5 L641.5,392.5 L642.0,392.5 L642.5,392.5 L643.0,392.5 L643.5,392.5 L644.0,392.5 L644.5,392.5 L645.0,392.5 L645.5,392.5 L646.0,392.5 L646.5,392.5 L647.0,392.5 L647.5,392.5 L648.0,392.5 L648.5,392.5 L649.0,392.5 L649.5,392.5 L650.0,392.5 L650.5,392.5 L651.0,392.5 L651.5,392.5 L652.0,392.5 L652.5,392.5 L653.0,392.5 L653.5,392.5 L654.0,392.5 L654.5,392.5 L655.0,392.5 L655.5,392.5 L656.0,392.5 L656.5,392.5 L657.0,392.5 L657.5,392.5 L658.0,392.5 L658.5,392.5 L659.0,392.5 L659.5,392.5 L660.0,392.5 L660.5,392.5 L661.0,392.5 L661.5,392.5 L662.0,392.5 L662.5,392.5 L663.0,392.5 L663.5,392.5 L664.0,392.5 L664.5,392.5 L665.0,392.5 L665.5,392.5 L666.0,392.5 L666.5,392.5 L667.0,392.5 L667.5,392.5 L668.0,392.5 L668.5,392.5 L669.0,392.5 L669.5,392.5 L670.0,392.5 L670.5,392.5 L671.0,392.5 L671.5,392.5 L672.0,392.5 L672.5,392.5 L673.0,392.5 L673.5,392.5 L674.0,392.5 L674.5,392.5 L675.0,392.5 L675.5,392.5 L676.0,392.5 L676.5,392.5 L677.0,392.5 L677.5,392.5 L678.0,392.5 L678.5,392.5 L679.0,392.5 L679.5,392.5 L680.0,392.5 L680.5,392.5 L681.0,392.5 L681.5,392.5 L682.0,392.5 L682.5,392.5 L683.0,392.5 L683.5,392.5 L684.0,392.5 L684.5,392.5 L685.0,392.5 L685.5,392.5 L686.0,392.5 L686.5,392.5 L687.0,392.5 L687.5,392.5 L688.0,392.5 L688.5,392.5 L689.0,392.5 L689.5,392.5 L690.0,392.5 L690.5,392.5 L691.0,392.5 L691.5,392.5 L692.0,392.5 L692.5,392.5 L693.0,392.5 L693.5,392.5 L694.0,392.5 L694.5,392.5 L695.0,392.5 L695.5,392.5 L696.0,392.5 L696.5,392.5 L697.0,392.5 L697.5,392.5 L698.0,392.5 L698.5,392.5 L699.0,392.5 L699.5,392.5 L700.0,392.5 L700.5,392.5 L701.0,392.5 L701.5,392.5 L702.0,392.5 L702.5,392.5 L703.0,392.5 L703.5,392.5 L704.0,392.5 L704.5,392.5 L705.0,392.5 L705.5,392.5 L706.0,392.5 L706.5,392.5 L707.0,392.5 L707.5,392.5 L708.0,392.5 L708.5,392.5 L709.0,392.5 L709.5,392.5 L710.0,392.5 L710.5,392.5 L711.0,392.5 L711.5,392.5 L712.0,392.5 L712.5,392.5 L713.0,392.5 L713.5,392.5 L714.0,392.5 L714.5,392.5 L715.0,392.5 L715.5,392.5 L716.0,392.5 L716.5,392.5 L717.0,392.5 L717.5,392.5 L718.0,392.5 L718.5,392.5 L719.0,392.5 L719.5,392.5 L720.0,392.5 L720.5,392.5 L721.0,392.5 L721.5,392.5 L722.0,392.5 L722.5,392.5 L723.0,392.5 L723.5,392.4 L724.0,392.4 L724.5,392.4 L725.0,392.4 L725.5,392.4 L726.0,392.4 L726.5,392.4 L727.0,392.4 L727.5,392.4 L728.0,392.4 L728.5,392.4 L729.0,392.4 L729.5,392.4 L730.0,392.4 L730.5,392.4 L731.0,392.4 L731.5,392.4 L732.0,392.4 L732.5,392.4 L733.0,392.4 L733.5,392.4 L734.0,392.4 L734.5,392.4 L735.0,392.4 L735.5,392.4 L736.0,392.4 L736.5,392.4 L737.0,392.4 L737.5,392.4 L738.0,392.4 L738.5,392.4 L739.0,392.4 L739.5,392.4 L740.0,392.4 L740.5,392.4 L741.0,392.4 L741.5,392.4 L742.0,392.4 L742.5,392.3 L743.0,392.3 L743.5,392.3 L744.0,392.3 L744.5,392.3 L745.0,392.3 L745.5,392.3 L746.0,392.3 L746.5,392.3 L747.0,392.3 L747.5,392.3 L748.0,392.3 L748.5,392.3 L749.0,392.3 L749.5,392.3 L750.0,392.3 L750.5,392.3 L751.0,392.3 L751.5,392.3 L752.0,392.3 L752.5,392.3 L753.0,392.3 L753.5,392.3 L754.0,392.3 L754.5,392.3 L755.0,392.3 L755.5,392.3 L756.0,392.3 L756.5,392.3 L757.0,392.3 L757.5,392.3 L758.0,392.2 L758.5,392.2 L759.0,392.2 L759.5,392.2 L760.0,392.2 L760.5,392.2 L761.0,392.2 L761.5,392.2 L762.0,392.2 L762.5,392.2 L763.0,392.2 L763.5,392.2 L764.0,392.2 L764.5,392.2 L765.0,392.2 L765.5,392.2 L766.0,392.2 L766.5,392.2 L767.0,392.2 L767.5,392.2 L768.0,392.2 L768.5,392.1 L769.0,392.1 L769.5,392.1 L770.0,392.1 L770.5,392.1 L771.0,392.1 L771.5,392.1 L772.0,392.1 L772.5,392.1 L773.0,392.1 L773.5,392.1 L774.0,392.1 L774.5,392.1 L775.0,392.0 L775.5,392.0 L776.0,392.0 L776.5,392.0 L777.0,392.0 L777.5,392.0 L778.0,392.0 L778.5,392.0 L779.0,392.0 L779.5,391.9 L780.0,391.9 L780.5,391.9 L781.0,391.9 L781.5,391.9 L782.0,391.9 L782.5,391.9 L783.0,391.8 L783.5,391.8 L784.0,391.8 L784.5,391.8 L785.0,391.8 L785.5,391.8 L786.0,391.8 L786.5,391.7 L787.0,391.7 L787.5,391.7 L788.0,391.7 L788.5,391.7 L789.0,391.6 L789.5,391.6 L790.0,391.6 L790.5,391.6 L791.0,391.6 L791.5,391.5 L792.0,391.5 L792.5,391.5 L793.0,391.5 L793.5,391.4 L794.0,391.4 L794.5,391.4 L795.0,391.4 L795.5,391.3 L796.0,391.3 L796.5,391.2 L797.0,391.0 L797.5,390.7 L798.0,390.4 L798.5,389.9 L799.0,389.5 L799.5,389.0 L800.0,388.5 L800.5,388.0 L801.0,387.5 L801.5,387.1 L802.0,386.7 L802.5,386.4 L803.0,386.1 L803.5,385.8 L804.0,385.5 L804.5,385.3 L805.0,385.0 L805.5,384.8 L806.0,384.5 L806.5,384.3 L807.0,384.0 L807.5,383.7 L808.0,383.4 L808.5,383.0 L809.0,382.6 L809.5,382.2 L810.0,381.7 L810.5,381.1 L811.0,380.2 L811.5,379.1 L812.0,377.9 L812.5,376.5 L813.0,375.1 L813.5,373.6 L814.0,372.2 L814.5,370.9 L815.0,369.8 L815.5,368.8 L816.0,367.6 L816.5,366.5 L817.0,365.3 L817.5,364.2 L818.0,363.3 L818.5,362.5 L819.0,361.9 L819.5,361.6 L820.0,361.7 L820.5,362.1 L821.0,362.8 L821.5,363.8 L822.0,365.0 L822.5,366.2 L823.0,367.4 L823.5,368.7 L824.0,370.4 L824.5,372.4 L825.0,374.5 L825.5,376.6 L826.0,378.5 L826.5,380.2 L827.0,381.4 L827.5,382.3 L828.0,383.1 L828.5,383.9 L829.0,384.6 L829.5,385.3 L830.0,385.9 L830.5,386.5 L831.0,387.0 L831.5,387.5 L832.0,388.0 L832.5,388.4 L833.0,388.7 L833.5,389.0 L834.0,389.2 L834.5,389.4 L835.0,389.6 L835.5,389.8 L836.0,389.9 L836.5,390.1 L837.0,390.2 L837.5,390.4 L838.0,390.5 L838.5,390.6 L839.0,390.6 L839.5,390.7 L840.0,390.7 L840.5,390.7 L841.0,390.7 L841.5,390.6 L842.0,390.6 L842.5,390.5 L843.0,390.4 L843.5,390.3 L844.0,390.2 L844.5,390.0 L845.0,389.9 L845.5,389.7 L846.0,389.6 L846.5,389.4 L847.0,389.2 L847.5,389.1 L848.0,388.9 L848.5,388.7 L849.0,388.6 L849.5,388.4 L850.0,388.3 L850.5,388.1 L851.0,388.0 L851.5,387.9 L852.0,387.7 L852.5,387.6 L853.0,387.5 L853.5,387.4 L854.0,387.3 L854.5,387.2 L855.0,387.1 L855.5,387.0 L856.0,386.9 L856.5,386.7 L857.0,386.6 L857.5,386.5 L858.0,386.4 L858.5,386.3 L859.0,386.2 L859.5,386.1 L860.0,386.0 L860.5,385.9 L861.0,385.8 L861.5,385.7 L862.0,385.6 L862.5,385.6 L863.0,385.5 L863.5,385.5 L864.0,385.4 L864.5,385.4 L865.0,385.3 L865.5,385.3 L866.0,385.3 L866.5,385.3 L867.0,385.3 L867.5,385.3 L868.0,385.3 L868.5,385.3 L869.0,385.3 L869.5,385.3 L870.0,385.3 L870.5,385.3 L871.0,385.3 L871.5,385.3 L872.0,385.3 L872.5,385.3 L873.0,385.3 L873.5,385.3 L874.0,385.3 L874.5,385.3 L875.0,385.3 L875.5,385.3 L876.0,385.3 L876.5,385.3 L877.0,385.3 L877.5,385.3 L878.0,385.3 L878.5,385.3 L879.0,385.3 L879.5,385.3 L880.0,385.3 L880.5,385.3 L881.0,385.3 L881.5,385.3 L882.0,385.3 L882.5,385.3 L883.0,385.3 L883.5,385.3 L884.0,385.2 L884.5,385.2 L885.0,385.1 L885.5,385.0 L886.0,384.9 L886.5,384.8 L887.0,384.7 L887.5,384.6 L888.0,384.5 L888.5,384.4 L889.0,384.2 L889.5,384.1 L890.0,383.9 L890.5,383.7 L891.0,383.6 L891.5,383.4 L892.0,383.2 L892.5,383.1 L893.0,382.9 L893.5,382.7 L894.0,382.5 L894.5,382.3 L895.0,382.1 L895.5,381.9 L896.0,381.7 L896.5,381.6 L897.0,381.4 L897.5,381.2 L898.0,380.9 L898.5,380.7 L899.0,380.5 L899.5,380.2 L900.0,379.9 L900.5,379.7 L901.0,379.4 L901.5,379.1 L902.0,378.8 L902.5,378.5 L903.0,378.1 L903.5,377.8 L904.0,377.4 L904.5,377.1 L905.0,376.7 L905.5,376.3 L906.0,375.9 L906.5,375.5 L907.0,375.1 L907.5,374.6 L908.0,374.1 L908.5,373.6 L909.0,373.0 L909.5,372.4 L910.0,371.8 L910.5,371.2 L911.0,370.5 L911.5,369.9 L912.0,369.2 L912.5,368.6 L913.0,367.9 L913.5,367.1 L914.0,366.2 L914.5,365.2 L915.0,364.3 L915.5,363.5 L916.0,362.7 L916.5,362.1 L917.0,361.7 L917.5,361.6 L918.0,361.7 L918.5,362.2 L919.0,362.8 L919.5,363.6 L920.0,364.5 L920.5,365.4 L921.0,366.3 L921.5,367.2 L922.0,368.0 L922.5,368.6 L923.0,369.1 L923.5,369.2 L924.0,369.1 L924.5,368.8 L925.0,368.4 L925.5,367.8 L926.0,367.0 L926.5,366.1 L927.0,365.1 L927.5,364.0 L928.0,362.9 L928.5,361.6 L929.0,360.0 L929.5,357.7 L930.0,354.9 L930.5,351.5 L931.0,347.7 L931.5,343.3 L932.0,338.5 L932.5,333.4 L933.0,326.3 L933.5,316.3 L934.0,304.8 L934.5,292.8 L935.0,281.7 L935.5,272.7 L936.0,265.5 L936.5,258.1 L937.0,251.2 L937.5,245.3 L938.0,241.1 L938.5,239.2 L939.0,240.1 L939.5,243.7 L940.0,249.2 L940.5,255.9 L941.0,263.0 L941.5,269.9 L942.0,276.6 L942.5,284.3 L943.0,292.7 L943.5,301.5 L944.0,310.2 L944.5,318.4 L945.0,325.9 L945.5,332.3 L946.0,337.7 L946.5,342.8 L947.0,347.9 L947.5,352.6 L948.0,357.1 L948.5,361.2 L949.0,364.9 L949.5,368.2 L950.0,371.0 L950.5,373.2 L951.0,375.0 L951.5,376.7 L952.0,378.3 L952.5,379.8 L953.0,381.0 L953.5,382.0 L954.0,382.7 L954.5,383.2 L955.0,383.3 L955.5,383.5 L956.0,383.6 L956.5,383.8 L957.0,383.9 L957.5,384.0 L958.0,384.0 L958.5,384.1 L959.0,384.2 L959.5,384.2 L960.0,384.3 L960.5,384.3 L961.0,384.4 L961.5,384.5 L962.0,384.6 L962.5,384.7 L963.0,384.8 L963.5,384.9 L964.0,385.0 L964.5,385.2 L965.0,385.3 L965.5,385.5 L966.0,385.7 L966.5,385.8 L967.0,386.0 L967.5,386.2 L968.0,386.3 L968.5,386.4 L969.0,386.5 L969.5,386.6 L970.0,386.7 L970.5,386.7 L971.0,386.7 L971.5,386.6 L972.0,386.4 L972.5,386.1 L973.0,385.8 L973.5,385.5 L974.0,385.2 L974.5,384.9 L975.0,384.6 L975.5,384.4 L976.0,384.2 L976.5,384.1 L977.0,384.1 L977.5,384.2 L978.0,384.3 L978.5,384.5 L979.0,384.7 L979.5,385.0 L980.0,385.3 L980.5,385.6 L981.0,385.8 L981.5,386.1 L982.0,386.4 L982.5,386.6 L983.0,386.8 L983.5,387.0 L984.0,387.2 L984.5,387.4 L985.0,387.6 L985.5,387.8 L986.0,388.0 L986.5,388.2 L987.0,388.4 L987.5,388.5 L988.0,388.7 L988.5,388.9 L989.0,389.1 L989.5,389.3 L990.0,389.4 L990.5,389.6 L990.8,389.7" fill="none" stroke="#f85549" stroke-width="3.0" stroke-linejoin="round" stroke-linecap="round"/>
<path d="M601.0,574.7 L601.5,574.7 L602.0,574.7 L602.5,574.7 L603.0,574.7 L603.5,574.7 L604.0,574.7 L604.5,574.7 L605.0,574.7 L605.5,574.7 L606.0,574.7 L606.5,574.7 L607.0,574.7 L607.5,574.7 L608.0,574.7 L608.5,574.7 L609.0,574.7 L609.5,574.7 L610.0,574.7 L610.5,574.7 L611.0,574.7 L611.5,574.7 L612.0,574.7 L612.5,574.7 L613.0,574.7 L613.5,574.7 L614.0,574.7 L614.5,574.7 L615.0,574.7 L615.5,574.7 L616.0,574.7 L616.5,574.7 L617.0,574.7 L617.5,574.7 L618.0,574.7 L618.5,574.7 L619.0,574.7 L619.5,574.7 L620.0,574.7 L620.5,574.7 L621.0,574.7 L621.5,574.7 L622.0,574.7 L622.5,574.7 L623.0,574.7 L623.5,574.7 L624.0,574.7 L624.5,574.7 L625.0,574.7 L625.5,574.7 L626.0,574.7 L626.5,574.7 L627.0,574.7 L627.5,574.7 L628.0,574.7 L628.5,574.7 L629.0,574.7 L629.5,574.7 L630.0,574.7 L630.5,574.7 L631.0,574.7 L631.5,574.7 L632.0,574.7 L632.5,574.7 L633.0,574.7 L633.5,574.7 L634.0,574.7 L634.5,574.7 L635.0,574.7 L635.5,574.7 L636.0,574.7 L636.5,574.7 L637.0,574.7 L637.5,574.7 L638.0,574.7 L638.5,574.7 L639.0,574.7 L639.5,574.7 L640.0,574.7 L640.5,574.7 L641.0,574.7 L641.5,574.7 L642.0,574.7 L642.5,574.7 L643.0,574.7 L643.5,574.7 L644.0,574.7 L644.5,574.7 L645.0,574.7 L645.5,574.7 L646.0,574.7 L646.5,574.7 L647.0,574.7 L647.5,574.7 L648.0,574.7 L648.5,574.7 L649.0,574.7 L649.5,574.7 L650.0,574.6 L650.5,574.6 L651.0,574.6 L651.5,574.6 L652.0,574.6 L652.5,574.6 L653.0,574.6 L653.5,574.6 L654.0,574.6 L654.5,574.6 L655.0,574.6 L655.5,574.6 L656.0,574.6 L656.5,574.6 L657.0,574.6 L657.5,574.5 L658.0,574.5 L658.5,574.5 L659.0,574.5 L659.5,574.5 L660.0,574.5 L660.5,574.5 L661.0,574.5 L661.5,574.5 L662.0,574.5 L662.5,574.4 L663.0,574.4 L663.5,574.4 L664.0,574.4 L664.5,574.4 L665.0,574.4 L665.5,574.4 L666.0,574.4 L666.5,574.3 L667.0,574.3 L667.5,574.3 L668.0,574.3 L668.5,574.3 L669.0,574.3 L669.5,574.3 L670.0,574.3 L670.5,574.2 L671.0,574.2 L671.5,574.2 L672.0,574.2 L672.5,574.2 L673.0,574.2 L673.5,574.1 L674.0,574.1 L674.5,574.1 L675.0,574.1 L675.5,574.1 L676.0,574.1 L676.5,574.1 L677.0,574.0 L677.5,574.0 L678.0,574.0 L678.5,574.0 L679.0,574.0 L679.5,573.9 L680.0,573.9 L680.5,573.8 L681.0,573.8 L681.5,573.7 L682.0,573.7 L682.5,573.6 L683.0,573.5 L683.5,573.4 L684.0,573.4 L684.5,573.3 L685.0,573.2 L685.5,573.1 L686.0,573.0 L686.5,572.9 L687.0,572.8 L687.5,572.7 L688.0,572.6 L688.5,572.5 L689.0,572.4 L689.5,572.3 L690.0,572.2 L690.5,572.2 L691.0,572.1 L691.5,572.0 L692.0,571.9 L692.5,571.8 L693.0,571.7 L693.5,571.6 L694.0,571.5 L694.5,571.5 L695.0,571.4 L695.5,571.3 L696.0,571.3 L696.5,571.2 L697.0,571.2 L697.5,571.1 L698.0,571.1 L698.5,571.1 L699.0,571.0 L699.5,571.0 L700.0,571.0 L700.5,571.0 L701.0,571.0 L701.5,571.0 L702.0,571.0 L702.5,571.0 L703.0,571.0 L703.5,571.0 L704.0,571.0 L704.5,570.9 L705.0,570.9 L705.5,570.9 L706.0,570.9 L706.5,570.9 L707.0,570.9 L707.5,570.9 L708.0,570.9 L708.5,570.9 L709.0,570.9 L709.5,570.9 L710.0,570.9 L710.5,570.9 L711.0,570.9 L711.5,570.9 L712.0,570.9 L712.5,570.9 L713.0,570.9 L713.5,570.9 L714.0,570.9 L714.5,570.9 L715.0,570.9 L715.5,570.9 L716.0,570.9 L716.5,570.9 L717.0,570.9 L717.5,570.9 L718.0,570.9 L718.5,570.9 L719.0,570.9 L719.5,570.9 L720.0,570.9 L720.5,570.9 L721.0,570.9 L721.5,570.9 L722.0,570.9 L722.5,570.9 L723.0,570.9 L723.5,570.9 L724.0,570.9 L724.5,570.8 L725.0,570.8 L725.5,570.8 L726.0,570.8 L726.5,570.8 L727.0,570.8 L727.5,570.8 L728.0,570.8 L728.5,570.8 L729.0,570.8 L729.5,570.8 L730.0,570.8 L730.5,570.8 L731.0,570.8 L731.5,570.8 L732.0,570.8 L732.5,570.8 L733.0,570.8 L733.5,570.8 L734.0,570.8 L734.5,570.8 L735.0,570.8 L735.5,570.8 L736.0,570.8 L736.5,570.8 L737.0,570.8 L737.5,570.8 L738.0,570.8 L738.5,570.8 L739.0,570.8 L739.5,570.8 L740.0,570.8 L740.5,570.8 L741.0,570.8 L741.5,570.8 L742.0,570.8 L742.5,570.8 L743.0,570.8 L743.5,570.8 L744.0,570.8 L744.5,570.7 L745.0,570.7 L745.5,570.7 L746.0,570.7 L746.5,570.7 L747.0,570.7 L747.5,570.7 L748.0,570.7 L748.5,570.7 L749.0,570.7 L749.5,570.7 L750.0,570.7 L750.5,570.6 L751.0,570.6 L751.5,570.6 L752.0,570.5 L752.5,570.5 L753.0,570.5 L753.5,570.4 L754.0,570.4 L754.5,570.3 L755.0,570.2 L755.5,570.2 L756.0,570.1 L756.5,570.0 L757.0,570.0 L757.5,569.9 L758.0,569.8 L758.5,569.7 L759.0,569.6 L759.5,569.6 L760.0,569.5 L760.5,569.4 L761.0,569.3 L761.5,569.2 L762.0,569.1 L762.5,569.0 L763.0,568.9 L763.5,568.8 L764.0,568.7 L764.5,568.6 L765.0,568.4 L765.5,568.3 L766.0,568.2 L766.5,568.1 L767.0,568.0 L767.5,567.9 L768.0,567.8 L768.5,567.7 L769.0,567.5 L769.5,567.4 L770.0,567.3 L770.5,567.2 L771.0,567.1 L771.5,567.0 L772.0,566.9 L772.5,566.7 L773.0,566.6 L773.5,566.5 L774.0,566.4 L774.5,566.3 L775.0,566.1 L775.5,566.0 L776.0,565.9 L776.5,565.8 L777.0,565.6 L777.5,565.5 L778.0,565.3 L778.5,565.2 L779.0,565.0 L779.5,564.9 L780.0,564.7 L780.5,564.6 L781.0,564.4 L781.5,564.2 L782.0,564.1 L782.5,563.9 L783.0,563.7 L783.5,563.5 L784.0,563.4 L784.5,563.2 L785.0,563.0 L785.5,562.8 L786.0,562.6 L786.5,562.4 L787.0,562.2 L787.5,562.0 L788.0,561.8 L788.5,561.6 L789.0,561.4 L789.5,561.2 L790.0,561.0 L790.5,560.7 L791.0,560.5 L791.5,560.3 L792.0,560.0 L792.5,559.8 L793.0,559.5 L793.5,559.3 L794.0,559.0 L794.5,558.7 L795.0,558.3 L795.5,558.0 L796.0,557.6 L796.5,557.2 L797.0,556.7 L797.5,556.1 L798.0,555.5 L798.5,554.8 L799.0,554.1 L799.5,553.4 L800.0,552.6 L800.5,551.8 L801.0,550.9 L801.5,550.0 L802.0,548.9 L802.5,547.9 L803.0,546.7 L803.5,545.6 L804.0,544.3 L804.5,543.0 L805.0,541.6 L805.5,540.1 L806.0,538.6 L806.5,536.9 L807.0,535.1 L807.5,533.2 L808.0,531.2 L808.5,529.1 L809.0,526.8 L809.5,524.5 L810.0,522.0 L810.5,519.3 L811.0,516.3 L811.5,513.1 L812.0,509.5 L812.5,505.8 L813.0,502.0 L813.5,498.1 L814.0,494.2 L814.5,490.1 L815.0,485.6 L815.5,480.9 L816.0,476.3 L816.5,471.9 L817.0,468.0 L817.5,464.4 L818.0,460.6 L818.5,456.9 L819.0,453.7 L819.5,451.3 L820.0,450.2 L820.5,450.4 L821.0,451.0 L821.5,452.1 L822.0,453.5 L822.5,455.1 L823.0,456.8 L823.5,459.0 L824.0,462.1 L824.5,466.0 L825.0,470.4 L825.5,475.1 L826.0,479.8 L826.5,484.4 L827.0,488.5 L827.5,492.3 L828.0,496.0 L828.5,499.8 L829.0,503.5 L829.5,507.2 L830.0,510.7 L830.5,514.1 L831.0,517.3 L831.5,520.3 L832.0,523.0 L832.5,525.5 L833.0,528.1 L833.5,530.6 L834.0,533.0 L834.5,535.4 L835.0,537.6 L835.5,539.7 L836.0,541.7 L836.5,543.4 L837.0,545.0 L837.5,546.3 L838.0,547.3 L838.5,548.0 L839.0,548.7 L839.5,549.4 L840.0,549.9 L840.5,550.5 L841.0,550.9 L841.5,551.4 L842.0,551.8 L842.5,552.1 L843.0,552.5 L843.5,552.8 L844.0,553.1 L844.5,553.4 L845.0,553.6 L845.5,553.9 L846.0,554.1 L846.5,554.3 L847.0,554.5 L847.5,554.7 L848.0,554.9 L848.5,555.1 L849.0,555.3 L849.5,555.4 L850.0,555.6 L850.5,555.8 L851.0,555.9 L851.5,556.1 L852.0,556.2 L852.5,556.4 L853.0,556.5 L853.5,556.7 L854.0,556.8 L854.5,557.0 L855.0,557.2 L855.5,557.3 L856.0,557.5 L856.5,557.7 L857.0,557.9 L857.5,558.1 L858.0,558.3 L858.5,558.6 L859.0,558.8 L859.5,559.0 L860.0,559.2 L860.5,559.4 L861.0,559.6 L861.5,559.8 L862.0,559.9 L862.5,560.1 L863.0,560.2 L863.5,560.3 L864.0,560.5 L864.5,560.6 L865.0,560.7 L865.5,560.8 L866.0,561.0 L866.5,561.1 L867.0,561.2 L867.5,561.4 L868.0,561.5 L868.5,561.6 L869.0,561.7 L869.5,561.8 L870.0,561.9 L870.5,562.0 L871.0,562.1 L871.5,562.2 L872.0,562.3 L872.5,562.3 L873.0,562.4 L873.5,562.4 L874.0,562.5 L874.5,562.5 L875.0,562.6 L875.5,562.6 L876.0,562.6 L876.5,562.6 L877.0,562.6 L877.5,562.6 L878.0,562.6 L878.5,562.6 L879.0,562.6 L879.5,562.5 L880.0,562.5 L880.5,562.5 L881.0,562.5 L881.5,562.5 L882.0,562.4 L882.5,562.4 L883.0,562.4 L883.5,562.4 L884.0,562.3 L884.5,562.3 L885.0,562.3 L885.5,562.2 L886.0,562.2 L886.5,562.2 L887.0,562.1 L887.5,562.1 L888.0,562.0 L888.5,562.0 L889.0,561.9 L889.5,561.9 L890.0,561.8 L890.5,561.8 L891.0,561.7 L891.5,561.6 L892.0,561.5 L892.5,561.4 L893.0,561.3 L893.5,561.1 L894.0,561.0 L894.5,560.9 L895.0,560.7 L895.5,560.6 L896.0,560.4 L896.5,560.2 L897.0,560.1 L897.5,559.9 L898.0,559.7 L898.5,559.5 L899.0,559.3 L899.5,559.0 L900.0,558.8 L900.5,558.5 L901.0,558.3 L901.5,557.9 L902.0,557.5 L902.5,557.0 L903.0,556.5 L903.5,555.9 L904.0,555.3 L904.5,554.6 L905.0,553.9 L905.5,553.1 L906.0,552.3 L906.5,551.4 L907.0,550.2 L907.5,548.7 L908.0,546.8 L908.5,544.8 L909.0,542.7 L909.5,540.7 L910.0,538.7 L910.5,537.0 L911.0,535.5 L911.5,534.5 L912.0,533.7 L912.5,533.0 L913.0,532.4 L913.5,531.8 L914.0,531.3 L914.5,530.8 L915.0,530.3 L915.5,529.9 L916.0,529.5 L916.5,529.1 L917.0,528.7 L917.5,528.3 L918.0,527.9 L918.5,527.5 L919.0,527.1 L919.5,526.8 L920.0,526.5 L920.5,526.2 L921.0,526.0 L921.5,525.8 L922.0,525.5 L922.5,525.3 L923.0,525.0 L923.5,524.6 L924.0,524.2 L924.5,523.7 L925.0,523.2 L925.5,522.5 L926.0,521.0 L926.5,518.3 L927.0,514.4 L927.5,509.8 L928.0,504.7 L928.5,499.4 L929.0,494.2 L929.5,489.3 L930.0,484.2 L930.5,478.5 L931.0,472.3 L931.5,465.9 L932.0,459.4 L932.5,453.3 L933.0,447.5 L933.5,442.5 L934.0,438.4 L934.5,435.5 L935.0,433.5 L935.5,431.7 L936.0,429.9 L936.5,428.4 L937.0,427.1 L937.5,426.1 L938.0,425.4 L938.5,425.1 L939.0,425.4 L939.5,426.5 L940.0,428.4 L940.5,430.7 L941.0,433.5 L941.5,436.5 L942.0,439.6 L942.5,442.6 L943.0,445.6 L943.5,449.0 L944.0,452.7 L944.5,456.7 L945.0,460.8 L945.5,465.2 L946.0,469.7 L946.5,474.3 L947.0,478.9 L947.5,483.5 L948.0,488.1 L948.5,492.5 L949.0,497.0 L949.5,501.8 L950.0,506.8 L950.5,511.9 L951.0,517.1 L951.5,522.3 L952.0,527.3 L952.5,532.1 L953.0,536.5 L953.5,540.6 L954.0,544.1 L954.5,547.1 L955.0,549.6 L955.5,552.0 L956.0,554.4 L956.5,556.6 L957.0,558.7 L957.5,560.5 L958.0,562.2 L958.5,563.5 L959.0,564.5 L959.5,565.2 L960.0,565.5 L960.5,565.7 L961.0,565.9 L961.5,566.0 L962.0,566.2 L962.5,566.3 L963.0,566.4 L963.5,566.5 L964.0,566.6 L964.5,566.7 L965.0,566.8 L965.5,566.9 L966.0,567.1 L966.5,567.2 L967.0,567.4 L967.5,567.7 L968.0,568.0 L968.5,568.4 L969.0,568.8 L969.5,569.3 L970.0,569.8 L970.5,570.2 L971.0,570.7 L971.5,571.1 L972.0,571.5 L972.5,571.9 L973.0,572.2 L973.5,572.4 L974.0,572.6 L974.5,572.7 L975.0,572.6 L975.5,572.3 L976.0,571.9 L976.5,571.3 L977.0,570.6 L977.5,570.0 L978.0,569.6 L978.5,569.3 L979.0,569.3 L979.5,569.3 L980.0,569.3 L980.5,569.3 L981.0,569.3 L981.5,569.3 L982.0,569.3 L982.5,569.3 L983.0,569.3 L983.5,569.3 L984.0,569.4 L984.5,569.4 L985.0,569.4 L985.5,569.4 L986.0,569.5 L986.5,569.5 L987.0,569.6 L987.5,569.6 L988.0,569.7 L988.5,569.7 L989.0,569.8 L989.5,569.9 L990.0,570.0 L990.5,570.0 L990.8,570.1" fill="none" stroke="#f85549" stroke-width="3.0" stroke-linejoin="round" stroke-linecap="round"/>
<path d="M601.0,756.1 L601.5,756.1 L602.0,756.1 L602.5,756.1 L603.0,756.1 L603.5,756.1 L604.0,756.1 L604.5,756.1 L605.0,756.1 L605.5,756.1 L606.0,756.1 L606.5,756.1 L607.0,756.1 L607.5,756.1 L608.0,756.1 L608.5,756.1 L609.0,756.1 L609.5,756.1 L610.0,756.1 L610.5,756.1 L611.0,756.1 L611.5,756.1 L612.0,756.1 L612.5,756.1 L613.0,756.1 L613.5,756.1 L614.0,756.1 L614.5,756.1 L615.0,756.1 L615.5,756.1 L616.0,756.1 L616.5,756.1 L617.0,756.1 L617.5,756.1 L618.0,756.1 L618.5,756.1 L619.0,756.1 L619.5,756.1 L620.0,756.1 L620.5,756.1 L621.0,756.1 L621.5,756.1 L622.0,756.1 L622.5,756.1 L623.0,756.1 L623.5,756.1 L624.0,756.1 L624.5,756.1 L625.0,756.1 L625.5,756.1 L626.0,756.1 L626.5,756.1 L627.0,756.1 L627.5,756.1 L628.0,756.1 L628.5,756.1 L629.0,756.1 L629.5,756.1 L630.0,756.1 L630.5,756.1 L631.0,756.1 L631.5,756.1 L632.0,756.1 L632.5,756.1 L633.0,756.1 L633.5,756.0 L634.0,756.0 L634.5,756.0 L635.0,756.0 L635.5,756.0 L636.0,756.0 L636.5,756.0 L637.0,756.0 L637.5,756.0 L638.0,756.0 L638.5,756.0 L639.0,756.0 L639.5,756.0 L640.0,756.0 L640.5,756.0 L641.0,756.0 L641.5,756.0 L642.0,756.0 L642.5,756.0 L643.0,756.0 L643.5,756.0 L644.0,756.0 L644.5,756.0 L645.0,756.0 L645.5,756.0 L646.0,756.0 L646.5,756.0 L647.0,756.0 L647.5,756.0 L648.0,756.0 L648.5,756.0 L649.0,756.0 L649.5,756.0 L650.0,756.0 L650.5,756.0 L651.0,756.0 L651.5,756.0 L652.0,756.0 L652.5,756.0 L653.0,756.0 L653.5,756.0 L654.0,756.0 L654.5,756.0 L655.0,756.0 L655.5,756.0 L656.0,756.0 L656.5,756.0 L657.0,756.0 L657.5,756.0 L658.0,756.0 L658.5,756.0 L659.0,756.0 L659.5,756.0 L660.0,756.0 L660.5,756.0 L661.0,756.0 L661.5,756.0 L662.0,756.0 L662.5,756.0 L663.0,756.0 L663.5,756.0 L664.0,756.0 L664.5,756.0 L665.0,756.0 L665.5,756.0 L666.0,756.0 L666.5,756.0 L667.0,756.0 L667.5,756.0 L668.0,756.0 L668.5,756.0 L669.0,756.0 L669.5,756.0 L670.0,756.0 L670.5,756.0 L671.0,756.0 L671.5,756.0 L672.0,756.0 L672.5,756.0 L673.0,756.0 L673.5,756.0 L674.0,756.0 L674.5,756.0 L675.0,756.0 L675.5,756.0 L676.0,756.0 L676.5,756.0 L677.0,756.0 L677.5,756.0 L678.0,756.0 L678.5,756.0 L679.0,756.0 L679.5,756.0 L680.0,756.0 L680.5,756.0 L681.0,756.0 L681.5,756.0 L682.0,756.0 L682.5,756.0 L683.0,756.0 L683.5,756.0 L684.0,756.0 L684.5,756.0 L685.0,756.0 L685.5,756.0 L686.0,756.0 L686.5,756.0 L687.0,756.0 L687.5,756.0 L688.0,756.0 L688.5,756.0 L689.0,756.0 L689.5,756.0 L690.0,756.0 L690.5,756.0 L691.0,756.0 L691.5,756.0 L692.0,756.0 L692.5,756.0 L693.0,756.0 L693.5,756.0 L694.0,756.0 L694.5,756.0 L695.0,756.0 L695.5,756.0 L696.0,756.0 L696.5,756.0 L697.0,756.0 L697.5,756.0 L698.0,756.0 L698.5,756.0 L699.0,756.0 L699.5,756.0 L700.0,756.0 L700.5,756.0 L701.0,756.0 L701.5,756.0 L702.0,756.0 L702.5,756.0 L703.0,756.0 L703.5,756.0 L704.0,756.0 L704.5,756.0 L705.0,756.0 L705.5,756.0 L706.0,756.0 L706.5,756.0 L707.0,756.0 L707.5,756.0 L708.0,756.0 L708.5,756.0 L709.0,756.0 L709.5,756.0 L710.0,756.0 L710.5,756.0 L711.0,756.0 L711.5,756.0 L712.0,756.0 L712.5,756.0 L713.0,756.0 L713.5,756.0 L714.0,756.0 L714.5,756.0 L715.0,756.0 L715.5,756.0 L716.0,756.0 L716.5,756.0 L717.0,756.0 L717.5,756.0 L718.0,756.0 L718.5,756.0 L719.0,756.0 L719.5,756.0 L720.0,756.0 L720.5,756.0 L721.0,756.0 L721.5,756.0 L722.0,756.0 L722.5,756.0 L723.0,756.0 L723.5,756.0 L724.0,756.0 L724.5,756.0 L725.0,756.0 L725.5,756.0 L726.0,756.0 L726.5,756.0 L727.0,756.0 L727.5,756.0 L728.0,756.0 L728.5,756.0 L729.0,756.0 L729.5,756.0 L730.0,756.0 L730.5,756.0 L731.0,756.0 L731.5,756.0 L732.0,756.0 L732.5,756.0 L733.0,756.0 L733.5,756.0 L734.0,756.0 L734.5,756.0 L735.0,756.0 L735.5,756.0 L736.0,756.0 L736.5,756.0 L737.0,756.0 L737.5,756.0 L738.0,756.0 L738.5,756.0 L739.0,756.0 L739.5,756.0 L740.0,756.0 L740.5,756.0 L741.0,756.0 L741.5,756.0 L742.0,756.0 L742.5,756.0 L743.0,756.0 L743.5,756.0 L744.0,756.0 L744.5,756.0 L745.0,756.0 L745.5,756.0 L746.0,756.0 L746.5,756.0 L747.0,756.0 L747.5,756.0 L748.0,756.0 L748.5,756.0 L749.0,756.0 L749.5,756.0 L750.0,756.0 L750.5,755.9 L751.0,755.9 L751.5,755.8 L752.0,755.7 L752.5,755.7 L753.0,755.6 L753.5,755.5 L754.0,755.4 L754.5,755.3 L755.0,755.2 L755.5,755.1 L756.0,755.0 L756.5,754.9 L757.0,754.7 L757.5,754.6 L758.0,754.5 L758.5,754.4 L759.0,754.3 L759.5,754.1 L760.0,754.0 L760.5,753.9 L761.0,753.8 L761.5,753.7 L762.0,753.5 L762.5,753.4 L763.0,753.3 L763.5,753.2 L764.0,753.1 L764.5,753.0 L765.0,752.9 L765.5,752.8 L766.0,752.7 L766.5,752.6 L767.0,752.5 L767.5,752.4 L768.0,752.3 L768.5,752.2 L769.0,752.0 L769.5,751.9 L770.0,751.8 L770.5,751.7 L771.0,751.6 L771.5,751.5 L772.0,751.4 L772.5,751.2 L773.0,751.1 L773.5,751.0 L774.0,750.9 L774.5,750.8 L775.0,750.7 L775.5,750.5 L776.0,750.4 L776.5,750.3 L777.0,750.2 L777.5,750.1 L778.0,750.0 L778.5,749.8 L779.0,749.7 L779.5,749.6 L780.0,749.5 L780.5,749.4 L781.0,749.3 L781.5,749.3 L782.0,749.2 L782.5,749.1 L783.0,749.0 L783.5,748.9 L784.0,748.8 L784.5,748.7 L785.0,748.6 L785.5,748.5 L786.0,748.4 L786.5,748.2 L787.0,748.1 L787.5,748.0 L788.0,747.8 L788.5,747.7 L789.0,747.5 L789.5,747.3 L790.0,747.1 L790.5,746.9 L791.0,746.7 L791.5,746.4 L792.0,746.1 L792.5,745.7 L793.0,745.3 L793.5,744.7 L794.0,744.2 L794.5,743.6 L795.0,742.9 L795.5,742.1 L796.0,741.4 L796.5,740.5 L797.0,739.6 L797.5,738.7 L798.0,737.7 L798.5,736.6 L799.0,735.4 L799.5,734.0 L800.0,732.2 L800.5,730.2 L801.0,727.9 L801.5,725.3 L802.0,722.6 L802.5,719.6 L803.0,716.5 L803.5,713.1 L804.0,709.6 L804.5,705.4 L805.0,700.6 L805.5,695.0 L806.0,688.9 L806.5,682.3 L807.0,675.2 L807.5,667.9 L808.0,660.0 L808.5,649.7 L809.0,638.0 L809.5,626.4 L810.0,616.6 L810.5,610.1 L811.0,605.0 L811.5,600.8 L812.0,598.3 L812.5,598.3 L813.0,599.5 L813.5,601.5 L814.0,604.1 L814.5,607.6 L815.0,615.4 L815.5,626.9 L816.0,640.2 L816.5,653.6 L817.0,665.6 L817.5,677.9 L818.0,691.0 L818.5,703.4 L819.0,713.8 L819.5,720.7 L820.0,725.2 L820.5,729.2 L821.0,732.8 L821.5,735.9 L822.0,738.4 L822.5,740.5 L823.0,742.0 L823.5,743.1 L824.0,743.9 L824.5,744.6 L825.0,745.2 L825.5,745.8 L826.0,746.4 L826.5,746.9 L827.0,747.3 L827.5,747.7 L828.0,748.1 L828.5,748.4 L829.0,748.7 L829.5,749.0 L830.0,749.3 L830.5,749.6 L831.0,749.8 L831.5,750.1 L832.0,750.4 L832.5,750.6 L833.0,750.9 L833.5,751.2 L834.0,751.4 L834.5,751.7 L835.0,751.9 L835.5,752.2 L836.0,752.4 L836.5,752.6 L837.0,752.8 L837.5,752.9 L838.0,753.1 L838.5,753.2 L839.0,753.3 L839.5,753.3 L840.0,753.4 L840.5,753.4 L841.0,753.4 L841.5,753.4 L842.0,753.4 L842.5,753.4 L843.0,753.4 L843.5,753.4 L844.0,753.4 L844.5,753.3 L845.0,753.3 L845.5,753.3 L846.0,753.3 L846.5,753.3 L847.0,753.3 L847.5,753.2 L848.0,753.2 L848.5,753.2 L849.0,753.1 L849.5,753.1 L850.0,753.1 L850.5,753.1 L851.0,753.0 L851.5,753.0 L852.0,753.0 L852.5,752.9 L853.0,752.9 L853.5,752.8 L854.0,752.8 L854.5,752.7 L855.0,752.7 L855.5,752.7 L856.0,752.6 L856.5,752.5 L857.0,752.4 L857.5,752.2 L858.0,752.0 L858.5,751.8 L859.0,751.5 L859.5,751.1 L860.0,750.8 L860.5,750.4 L861.0,750.1 L861.5,749.7 L862.0,749.3 L862.5,748.9 L863.0,748.5 L863.5,748.1 L864.0,747.8 L864.5,747.5 L865.0,747.2 L865.5,746.9 L866.0,746.7 L866.5,746.5 L867.0,746.4 L867.5,746.3 L868.0,746.3 L868.5,746.6 L869.0,747.0 L869.5,747.6 L870.0,748.3 L870.5,749.0 L871.0,749.8 L871.5,750.5 L872.0,751.0 L872.5,751.4 L873.0,751.5 L873.5,751.5 L874.0,751.5 L874.5,751.5 L875.0,751.5 L875.5,751.5 L876.0,751.5 L876.5,751.5 L877.0,751.5 L877.5,751.5 L878.0,751.5 L878.5,751.5 L879.0,751.5 L879.5,751.5 L880.0,751.5 L880.5,751.4 L881.0,751.4 L881.5,751.4 L882.0,751.4 L882.5,751.4 L883.0,751.4 L883.5,751.4 L884.0,751.4 L884.5,751.4 L885.0,751.4 L885.5,751.3 L886.0,751.3 L886.5,751.3 L887.0,751.3 L887.5,751.3 L888.0,751.3 L888.5,751.2 L889.0,751.2 L889.5,751.2 L890.0,751.1 L890.5,751.0 L891.0,751.0 L891.5,750.9 L892.0,750.8 L892.5,750.7 L893.0,750.6 L893.5,750.5 L894.0,750.3 L894.5,750.2 L895.0,750.1 L895.5,749.9 L896.0,749.8 L896.5,749.6 L897.0,749.4 L897.5,749.3 L898.0,749.1 L898.5,748.9 L899.0,748.7 L899.5,748.5 L900.0,748.3 L900.5,748.1 L901.0,747.7 L901.5,747.3 L902.0,746.7 L902.5,746.1 L903.0,745.4 L903.5,744.6 L904.0,743.8 L904.5,742.9 L905.0,742.1 L905.5,741.3 L906.0,740.5 L906.5,739.7 L907.0,739.0 L907.5,738.4 L908.0,737.9 L908.5,737.6 L909.0,737.2 L909.5,736.9 L910.0,736.6 L910.5,736.3 L911.0,736.1 L911.5,735.8 L912.0,735.6 L912.5,735.3 L913.0,735.1 L913.5,734.9 L914.0,734.7 L914.5,734.5 L915.0,734.3 L915.5,734.1 L916.0,733.8 L916.5,733.6 L917.0,733.4 L917.5,733.3 L918.0,733.1 L918.5,733.0 L919.0,732.8 L919.5,732.7 L920.0,732.5 L920.5,732.3 L921.0,732.1 L921.5,731.9 L922.0,731.6 L922.5,731.3 L923.0,730.7 L923.5,729.7 L924.0,728.3 L924.5,726.5 L925.0,724.3 L925.5,721.9 L926.0,719.4 L926.5,716.7 L927.0,713.9 L927.5,711.2 L928.0,708.4 L928.5,705.8 L929.0,703.4 L929.5,701.1 L930.0,698.7 L930.5,696.2 L931.0,693.6 L931.5,691.0 L932.0,688.4 L932.5,686.0 L933.0,683.8 L933.5,681.8 L934.0,680.1 L934.5,678.8 L935.0,677.5 L935.5,676.4 L936.0,675.2 L936.5,674.2 L937.0,673.4 L937.5,672.8 L938.0,672.5 L938.5,672.4 L939.0,672.9 L939.5,673.8 L940.0,675.0 L940.5,676.6 L941.0,678.4 L941.5,680.5 L942.0,682.6 L942.5,684.9 L943.0,687.2 L943.5,689.4 L944.0,691.5 L944.5,693.5 L945.0,695.3 L945.5,697.0 L946.0,698.6 L946.5,700.2 L947.0,701.8 L947.5,703.4 L948.0,705.1 L948.5,706.8 L949.0,708.7 L949.5,710.7 L950.0,712.9 L950.5,715.5 L951.0,718.8 L951.5,722.5 L952.0,726.5 L952.5,730.5 L953.0,734.5 L953.5,738.2 L954.0,741.5 L954.5,744.2 L955.0,746.1 L955.5,747.1 L956.0,747.9 L956.5,748.7 L957.0,749.4 L957.5,750.1 L958.0,750.7 L958.5,751.2 L959.0,751.7 L959.5,752.2 L960.0,752.6 L960.5,752.9 L961.0,753.2 L961.5,753.5 L962.0,753.7 L962.5,753.9 L963.0,754.1 L963.5,754.2 L964.0,754.3 L964.5,754.4 L965.0,754.5 L965.5,754.6 L966.0,754.7 L966.5,754.8 L967.0,754.8 L967.5,754.9 L968.0,755.0 L968.5,755.0 L969.0,755.1 L969.5,755.1 L970.0,755.2 L970.5,755.2 L971.0,755.3 L971.5,755.3 L972.0,755.4 L972.5,755.4 L973.0,755.5 L973.5,755.5 L974.0,755.5 L974.5,755.6 L975.0,755.6 L975.5,755.7 L976.0,755.7 L976.5,755.8 L977.0,755.8 L977.5,755.9 L978.0,755.9 L978.5,756.0 L979.0,756.0 L979.5,756.1 L980.0,756.1 L980.5,756.2 L981.0,756.3 L981.5,756.3 L982.0,756.4 L982.5,756.4 L983.0,756.5 L983.5,756.5 L984.0,756.6 L984.5,756.6 L985.0,756.7 L985.5,756.8 L986.0,756.8 L986.5,756.9 L987.0,756.9 L987.5,757.0 L988.0,757.0 L988.5,757.1 L989.0,757.1 L989.5,757.2 L990.0,757.2 L990.5,757.3" fill="none" stroke="#f85549" stroke-width="3.0" stroke-linejoin="round" stroke-linecap="round"/>
<line x1="312.50" y1="49.30" x2="312.50" y2="767.80" stroke="#000" stroke-width="3" stroke-dasharray="6.5 9.3"/>
<line x1="418.90" y1="49.30" x2="418.90" y2="767.80" stroke="#000" stroke-width="3" stroke-dasharray="6.5 9.3"/>
<line x1="436.70" y1="49.30" x2="436.70" y2="767.80" stroke="#000" stroke-width="3" stroke-dasharray="6.5 9.3"/>
<line x1="820.00" y1="49.00" x2="820.00" y2="767.00" stroke="#000" stroke-width="3" stroke-dasharray="6.5 9.3"/>
<line x1="917.50" y1="48.60" x2="917.50" y2="767.00" stroke="#000" stroke-width="3" stroke-dasharray="6.5 9.3"/>
<line x1="938.20" y1="46.30" x2="938.20" y2="767.00" stroke="#000" stroke-width="3" stroke-dasharray="6.5 9.3"/>
<rect x="90.30" y="907.40" width="396.00" height="215.10" fill="none" stroke="#000" stroke-width="2.6"/>
<line x1="90.30" y1="1090.12" x2="95.80" y2="1090.12" stroke="#000" stroke-width="2.2"/>
<line x1="486.30" y1="1090.12" x2="480.80" y2="1090.12" stroke="#000" stroke-width="2.2"/>
<line x1="90.30" y1="1071.19" x2="95.80" y2="1071.19" stroke="#000" stroke-width="2.2"/>
<line x1="486.30" y1="1071.19" x2="480.80" y2="1071.19" stroke="#000" stroke-width="2.2"/>
<line x1="90.30" y1="1057.75" x2="95.80" y2="1057.75" stroke="#000" stroke-width="2.2"/>
<line x1="486.30" y1="1057.75" x2="480.80" y2="1057.75" stroke="#000" stroke-width="2.2"/>
<line x1="90.30" y1="1047.33" x2="95.80" y2="1047.33" stroke="#000" stroke-width="2.2"/>
<line x1="486.30" y1="1047.33" x2="480.80" y2="1047.33" stroke="#000" stroke-width="2.2"/>
<line x1="90.30" y1="1038.81" x2="95.80" y2="1038.81" stroke="#000" stroke-width="2.2"/>
<line x1="486.30" y1="1038.81" x2="480.80" y2="1038.81" stroke="#000" stroke-width="2.2"/>
<line x1="90.30" y1="1031.61" x2="95.80" y2="1031.61" stroke="#000" stroke-width="2.2"/>
<line x1="486.30" y1="1031.61" x2="480.80" y2="1031.61" stroke="#000" stroke-width="2.2"/>
<line x1="90.30" y1="1025.37" x2="95.80" y2="1025.37" stroke="#000" stroke-width="2.2"/>
<line x1="486.30" y1="1025.37" x2="480.80" y2="1025.37" stroke="#000" stroke-width="2.2"/>
<line x1="90.30" y1="1019.87" x2="95.80" y2="1019.87" stroke="#000" stroke-width="2.2"/>
<line x1="486.30" y1="1019.87" x2="480.80" y2="1019.87" stroke="#000" stroke-width="2.2"/>
<line x1="90.30" y1="982.57" x2="95.80" y2="982.57" stroke="#000" stroke-width="2.2"/>
<line x1="486.30" y1="982.57" x2="480.80" y2="982.57" stroke="#000" stroke-width="2.2"/>
<line x1="90.30" y1="963.64" x2="95.80" y2="963.64" stroke="#000" stroke-width="2.2"/>
<line x1="486.30" y1="963.64" x2="480.80" y2="963.64" stroke="#000" stroke-width="2.2"/>
<line x1="90.30" y1="950.20" x2="95.80" y2="950.20" stroke="#000" stroke-width="2.2"/>
<line x1="486.30" y1="950.20" x2="480.80" y2="950.20" stroke="#000" stroke-width="2.2"/>
<line x1="90.30" y1="939.78" x2="95.80" y2="939.78" stroke="#000" stroke-width="2.2"/>
<line x1="486.30" y1="939.78" x2="480.80" y2="939.78" stroke="#000" stroke-width="2.2"/>
<line x1="90.30" y1="931.26" x2="95.80" y2="931.26" stroke="#000" stroke-width="2.2"/>
<line x1="486.30" y1="931.26" x2="480.80" y2="931.26" stroke="#000" stroke-width="2.2"/>
<line x1="90.30" y1="924.06" x2="95.80" y2="924.06" stroke="#000" stroke-width="2.2"/>
<line x1="486.30" y1="924.06" x2="480.80" y2="924.06" stroke="#000" stroke-width="2.2"/>
<line x1="90.30" y1="917.82" x2="95.80" y2="917.82" stroke="#000" stroke-width="2.2"/>
<line x1="486.30" y1="917.82" x2="480.80" y2="917.82" stroke="#000" stroke-width="2.2"/>
<line x1="90.30" y1="912.32" x2="95.80" y2="912.32" stroke="#000" stroke-width="2.2"/>
<line x1="486.30" y1="912.32" x2="480.80" y2="912.32" stroke="#000" stroke-width="2.2"/>
<line x1="90.30" y1="1014.95" x2="102.80" y2="1014.95" stroke="#000" stroke-width="2.4"/>
<line x1="486.30" y1="1014.95" x2="473.80" y2="1014.95" stroke="#000" stroke-width="2.4"/>
<line x1="135.60" y1="1122.50" x2="135.60" y2="1113.80" stroke="#000" stroke-width="2.2"/>
<line x1="135.60" y1="907.40" x2="135.60" y2="916.10" stroke="#000" stroke-width="2.2"/>
<line x1="284.00" y1="1122.50" x2="284.00" y2="1113.80" stroke="#000" stroke-width="2.2"/>
<line x1="284.00" y1="907.40" x2="284.00" y2="916.10" stroke="#000" stroke-width="2.2"/>
<line x1="432.30" y1="1122.50" x2="432.30" y2="1113.80" stroke="#000" stroke-width="2.2"/>
<line x1="432.30" y1="907.40" x2="432.30" y2="916.10" stroke="#000" stroke-width="2.2"/>
<circle cx="135.95" cy="943.0" r="5.9" fill="#2d3516"/>
<circle cx="341.3" cy="1021.9" r="5.9" fill="#2d3516"/>
<circle cx="387.2" cy="1045.0" r="5.9" fill="#2d3516"/>
<circle cx="432.5" cy="1059.8" r="5.9" fill="#2d3516"/>
<rect x="600.00" y="909.00" width="394.80" height="213.40" fill="none" stroke="#000" stroke-width="2.6"/>
<line x1="600.00" y1="1090.28" x2="605.50" y2="1090.28" stroke="#000" stroke-width="2.2"/>
<line x1="994.80" y1="1090.28" x2="989.30" y2="1090.28" stroke="#000" stroke-width="2.2"/>
<line x1="600.00" y1="1071.49" x2="605.50" y2="1071.49" stroke="#000" stroke-width="2.2"/>
<line x1="994.80" y1="1071.49" x2="989.30" y2="1071.49" stroke="#000" stroke-width="2.2"/>
<line x1="600.00" y1="1058.16" x2="605.50" y2="1058.16" stroke="#000" stroke-width="2.2"/>
<line x1="994.80" y1="1058.16" x2="989.30" y2="1058.16" stroke="#000" stroke-width="2.2"/>
<line x1="600.00" y1="1047.82" x2="605.50" y2="1047.82" stroke="#000" stroke-width="2.2"/>
<line x1="994.80" y1="1047.82" x2="989.30" y2="1047.82" stroke="#000" stroke-width="2.2"/>
<line x1="600.00" y1="1039.37" x2="605.50" y2="1039.37" stroke="#000" stroke-width="2.2"/>
<line x1="994.80" y1="1039.37" x2="989.30" y2="1039.37" stroke="#000" stroke-width="2.2"/>
<line x1="600.00" y1="1032.23" x2="605.50" y2="1032.23" stroke="#000" stroke-width="2.2"/>
<line x1="994.80" y1="1032.23" x2="989.30" y2="1032.23" stroke="#000" stroke-width="2.2"/>
<line x1="600.00" y1="1026.04" x2="605.50" y2="1026.04" stroke="#000" stroke-width="2.2"/>
<line x1="994.80" y1="1026.04" x2="989.30" y2="1026.04" stroke="#000" stroke-width="2.2"/>
<line x1="600.00" y1="1020.58" x2="605.50" y2="1020.58" stroke="#000" stroke-width="2.2"/>
<line x1="994.80" y1="1020.58" x2="989.30" y2="1020.58" stroke="#000" stroke-width="2.2"/>
<line x1="600.00" y1="983.58" x2="605.50" y2="983.58" stroke="#000" stroke-width="2.2"/>
<line x1="994.80" y1="983.58" x2="989.30" y2="983.58" stroke="#000" stroke-width="2.2"/>
<line x1="600.00" y1="964.79" x2="605.50" y2="964.79" stroke="#000" stroke-width="2.2"/>
<line x1="994.80" y1="964.79" x2="989.30" y2="964.79" stroke="#000" stroke-width="2.2"/>
<line x1="600.00" y1="951.46" x2="605.50" y2="951.46" stroke="#000" stroke-width="2.2"/>
<line x1="994.80" y1="951.46" x2="989.30" y2="951.46" stroke="#000" stroke-width="2.2"/>
<line x1="600.00" y1="941.12" x2="605.50" y2="941.12" stroke="#000" stroke-width="2.2"/>
<line x1="994.80" y1="941.12" x2="989.30" y2="941.12" stroke="#000" stroke-width="2.2"/>
<line x1="600.00" y1="932.67" x2="605.50" y2="932.67" stroke="#000" stroke-width="2.2"/>
<line x1="994.80" y1="932.67" x2="989.30" y2="932.67" stroke="#000" stroke-width="2.2"/>
<line x1="600.00" y1="925.53" x2="605.50" y2="925.53" stroke="#000" stroke-width="2.2"/>
<line x1="994.80" y1="925.53" x2="989.30" y2="925.53" stroke="#000" stroke-width="2.2"/>
<line x1="600.00" y1="919.34" x2="605.50" y2="919.34" stroke="#000" stroke-width="2.2"/>
<line x1="994.80" y1="919.34" x2="989.30" y2="919.34" stroke="#000" stroke-width="2.2"/>
<line x1="600.00" y1="913.88" x2="605.50" y2="913.88" stroke="#000" stroke-width="2.2"/>
<line x1="994.80" y1="913.88" x2="989.30" y2="913.88" stroke="#000" stroke-width="2.2"/>
<line x1="600.00" y1="1015.70" x2="612.50" y2="1015.70" stroke="#000" stroke-width="2.4"/>
<line x1="994.80" y1="1015.70" x2="982.30" y2="1015.70" stroke="#000" stroke-width="2.4"/>
<line x1="652.50" y1="1122.40" x2="652.50" y2="1113.70" stroke="#000" stroke-width="2.2"/>
<line x1="652.50" y1="909.00" x2="652.50" y2="917.70" stroke="#000" stroke-width="2.2"/>
<line x1="791.10" y1="1122.40" x2="791.10" y2="1113.70" stroke="#000" stroke-width="2.2"/>
<line x1="791.10" y1="909.00" x2="791.10" y2="917.70" stroke="#000" stroke-width="2.2"/>
<line x1="928.30" y1="1122.40" x2="928.30" y2="1113.70" stroke="#000" stroke-width="2.2"/>
<line x1="928.30" y1="909.00" x2="928.30" y2="917.70" stroke="#000" stroke-width="2.2"/>
<line x1="655.1" y1="1069.0" x2="928.8" y2="924.3" stroke="#f85549" stroke-width="3.6"/>
<circle cx="655.1" cy="1071.2" r="5.9" fill="#2d3516"/>
<circle cx="791.0" cy="993.9" r="5.9" fill="#2d3516"/>
<circle cx="928.8" cy="926.9" r="5.9" fill="#2d3516"/>
<text transform="translate(-0.20,30.49) scale(0.89,1)" style="font-size:42px;font-weight:bold">a</text>
<text x="526.23" y="30.59" style="font-size:42px;font-weight:bold">b</text>
<text x="1.16" y="859.40" style="font-size:42px;font-weight:bold">c</text>
<text x="502.58" y="859.73" style="font-size:42px;font-weight:bold">d</text>
<text transform="translate(301.64,29.33) scale(1,1.04)" style="font-size:34px">X</text>
<text transform="translate(323.71,36.10) scale(1,1.04)" style="font-size:17px">L</text>
<text transform="translate(387.64,29.33) scale(1,1.04)" style="font-size:34px">X</text>
<text transform="translate(411.07,36.10) scale(1,1.04)" style="font-size:17px">A</text>
<text transform="translate(437.84,29.33) scale(1,1.04)" style="font-size:34px">X</text>
<text transform="translate(461.07,36.10) scale(1,1.04)" style="font-size:17px">A</text>
<text transform="translate(807.64,29.33) scale(1,1.04)" style="font-size:34px">X</text>
<text transform="translate(830.11,36.10) scale(1,1.04)" style="font-size:17px">L</text>
<text transform="translate(893.64,29.33) scale(1,1.04)" style="font-size:34px">X</text>
<text transform="translate(916.47,36.10) scale(1,1.04)" style="font-size:17px">A</text>
<text transform="translate(940.84,29.33) scale(1,1.04)" style="font-size:34px">X</text>
<text transform="translate(963.67,36.10) scale(1,1.04)" style="font-size:17px">A</text>
<text transform="translate(429.38,13.02) scale(1,1.04)" style="font-size:16px">0</text>
<text transform="translate(931.88,13.02) scale(1,1.04)" style="font-size:16px">0</text>
<rect x="383.0" y="8.5" width="4.8" height="1.9" fill="#000"/>
<rect x="889.2" y="8.5" width="4.8" height="1.9" fill="#000"/>
<text transform="translate(104.23,89.92) scale(1,1.04)" style="font-size:34px">As-exfoliated</text>
<text transform="translate(103.02,278.19) scale(1,1.04)" style="font-size:34px">420 K</text>
<text transform="translate(103.02,462.09) scale(1,1.04)" style="font-size:34px">450 K</text>
<text transform="translate(102.44,643.49) scale(1,1.04)" style="font-size:34px">510 K</text>
<text transform="translate(623.34,89.29) scale(1,1.04)" style="font-size:34px">510 K</text>
<text transform="translate(622.87,277.89) scale(1,1.04)" style="font-size:34px">600 K</text>
<text transform="translate(622.86,462.09) scale(1,1.04)" style="font-size:34px">700 K</text>
<text transform="translate(623.12,643.49) scale(1,1.04)" style="font-size:34px">800 K</text>
<text transform="translate(25.11,71.99) scale(1,1.04)" style="font-size:34px">10</text>
<text transform="translate(62.37,220.09) scale(1,1.04)" style="font-size:34px">0</text>
<text transform="translate(63.81,248.83) scale(1,1.04)" style="font-size:34px">1</text>
<text transform="translate(62.37,400.09) scale(1,1.04)" style="font-size:34px">0</text>
<text transform="translate(63.81,436.53) scale(1,1.04)" style="font-size:34px">1</text>
<text transform="translate(62.37,580.99) scale(1,1.04)" style="font-size:34px">0</text>
<text transform="translate(63.81,613.73) scale(1,1.04)" style="font-size:34px">1</text>
<text transform="translate(62.37,767.39) scale(1,1.04)" style="font-size:34px">0</text>
<text transform="translate(553.77,96.99) scale(1,1.04)" style="font-size:34px">60</text>
<text transform="translate(573.27,223.79) scale(1,1.04)" style="font-size:34px">0</text>
<text transform="translate(555.11,265.99) scale(1,1.04)" style="font-size:34px">30</text>
<text transform="translate(573.27,406.49) scale(1,1.04)" style="font-size:34px">0</text>
<text transform="translate(555.51,459.73) scale(1,1.04)" style="font-size:34px">15</text>
<text transform="translate(573.87,586.29) scale(1,1.04)" style="font-size:34px">0</text>
<text transform="translate(554.62,633.99) scale(1,1.04)" style="font-size:34px">80</text>
<text transform="translate(573.67,768.29) scale(1,1.04)" style="font-size:34px">0</text>
<text transform="translate(65.81,806.33) scale(1,1.04)" style="font-size:34px">1.4</text>
<text transform="translate(188.41,806.69) scale(1,1.04)" style="font-size:34px">1.6</text>
<text transform="translate(310.41,806.69) scale(1,1.04)" style="font-size:34px">1.8</text>
<text transform="translate(460.49,806.69) scale(1,1.04)" style="font-size:34px">2.0</text>
<text transform="translate(575.01,806.33) scale(1,1.04)" style="font-size:34px">1.4</text>
<text transform="translate(693.91,806.69) scale(1,1.04)" style="font-size:34px">1.6</text>
<text transform="translate(814.11,806.69) scale(1,1.04)" style="font-size:34px">1.8</text>
<text transform="translate(935.19,806.69) scale(1,1.04)" style="font-size:34px">2.0</text>
<text transform="translate(107.11,1158.59) scale(1,1.04)" style="font-size:34px">300</text>
<text transform="translate(254.92,1158.59) scale(1,1.04)" style="font-size:34px">400</text>
<text transform="translate(405.74,1158.59) scale(1,1.04)" style="font-size:34px">500</text>
<text transform="translate(608.81,1159.52) scale(1,1.04)" style="font-size:34px">1/600</text>
<text transform="translate(745.41,1159.52) scale(1,1.04)" style="font-size:34px">1/700</text>
<text transform="translate(882.81,1159.52) scale(1,1.04)" style="font-size:34px">1/800</text>
<text transform="translate(40.11,927.39) scale(1,1.04)" style="font-size:34px">10</text>
<text transform="translate(76.40,910.22) scale(1,1.04)" style="font-size:16px">2</text>
<text transform="translate(39.31,1036.09) scale(1,1.04)" style="font-size:34px">10</text>
<text transform="translate(76.78,1018.85) scale(1,1.04)" style="font-size:16px">1</text>
<text transform="translate(39.91,1135.69) scale(1,1.04)" style="font-size:34px">10</text>
<text transform="translate(77.58,1119.02) scale(1,1.04)" style="font-size:16px">0</text>
<text transform="translate(549.41,923.09) scale(1,1.04)" style="font-size:34px">10</text>
<text transform="translate(585.60,905.82) scale(1,1.04)" style="font-size:16px">2</text>
<text transform="translate(549.41,1032.89) scale(1,1.04)" style="font-size:34px">10</text>
<text transform="translate(586.58,1015.85) scale(1,1.04)" style="font-size:16px">1</text>
<text transform="translate(549.41,1136.89) scale(1,1.04)" style="font-size:34px">10</text>
<text transform="translate(586.48,1119.62) scale(1,1.04)" style="font-size:16px">0</text>
<text transform="translate(201.71,843.73) scale(1,1.04)" style="font-size:34px">Energy (eV)</text>
<text transform="translate(704.31,844.13) scale(1,1.04)" style="font-size:34px">Energy (eV)</text>
<text transform="translate(218.95,1195.33) scale(1,1.04)" style="font-size:34px;font-style:italic">T</text>
<text transform="translate(238.68,1201.20) scale(1,1.04)" style="font-size:17px">annealing</text>
<text transform="translate(320.49,1195.20) scale(1,1.04)" style="font-size:34px">(K)</text>
<text transform="translate(672.31,1194.53) scale(1,1.04)" style="font-size:34px">1/</text>
<text transform="translate(699.15,1194.53) scale(1,1.04)" style="font-size:34px;font-style:italic">T</text>
<text transform="translate(720.68,1201.60) scale(1,1.04)" style="font-size:17px">annealing</text>
<text transform="translate(802.49,1195.50) scale(1,1.04)" style="font-size:34px">(1/K)</text>
<text transform="translate(692.95,1092.43) scale(1,1.04)" style="font-size:34px;font-style:italic">E</text>
<text transform="translate(715.77,1098.30) scale(1,1.04)" style="font-size:17px">A</text>
<text transform="translate(726.55,1090.80) scale(1,1.04)" style="font-size:33.7px">= (0.71±0.13) eV</text>
<text transform="translate(24.90,551.01) rotate(-90) scale(1,1.04)" style="font-size:33.7px">Intensity (arb .u.)</text>
<text transform="translate(545.90,556.11) rotate(-90) scale(1,1.04)" style="font-size:33.75px">Intensity (arb. u.)</text>
<text transform="translate(25.70,1165.52) rotate(-90) scale(1,1.04)" style="font-size:33.8px">Int(L-Band) (arb .u.)</text>
<text transform="translate(533.40,1138.91) rotate(-90) scale(1,1.04)" style="font-size:34px">ΔInt(X<tspan dy="6.4" style="font-size:17px">L</tspan><tspan dy="-6.4">) (arb .u.)</tspan></text>
</svg>
</body></html>
